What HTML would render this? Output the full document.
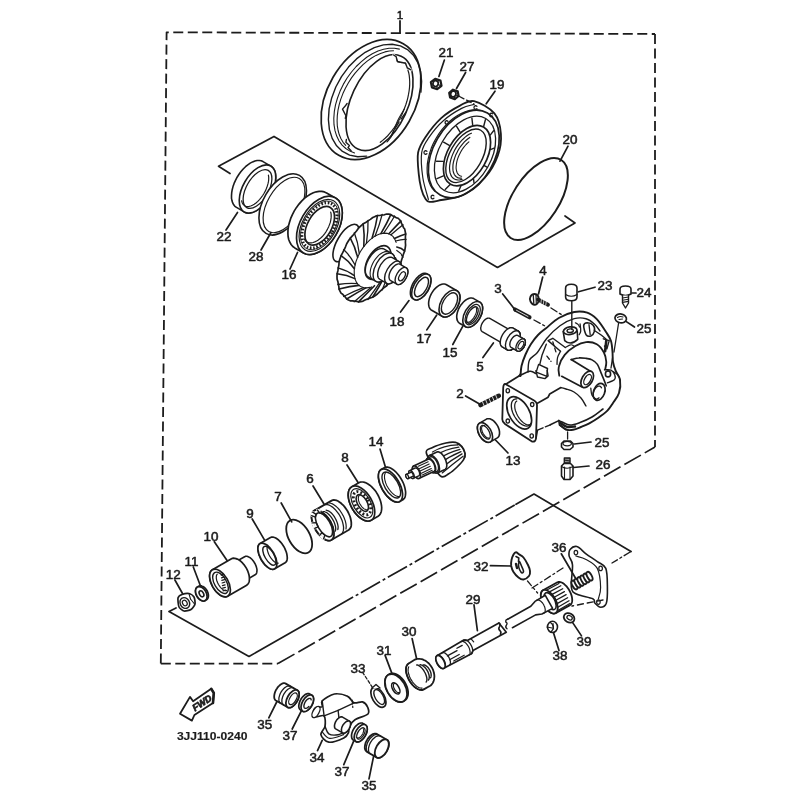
<!DOCTYPE html>
<html><head><meta charset="utf-8"><title>Parts diagram</title>
<style>
html,body{margin:0;padding:0;background:#fff;}
svg{display:block;filter:blur(0.35px);}
svg *{stroke:#1c1c1c;stroke-linecap:round;stroke-linejoin:round;}
svg text{font-family:"Liberation Sans",sans-serif;fill:#1c1c1c;stroke:#1c1c1c;stroke-width:0.5px;}
</style></head><body>
<svg width="800" height="800" viewBox="0 0 800 800">
<rect x="0" y="0" width="800" height="800" fill="#fff" stroke="none" style="stroke:none"/>
<path d="M160.8 663.6 L166.6 32.3 L655 34" stroke-width="1.8" fill="none" stroke-dasharray="10 4.5" style="stroke-linecap:butt"/>
<path d="M655 34 V447" stroke-width="1.8" fill="none" stroke-dasharray="10 4.5" style="stroke-linecap:butt"/>
<path d="M160.8 663.6 H278" stroke-width="1.7" fill="none" stroke-dasharray="10 4.5" style="stroke-linecap:butt"/>
<path d="M278 663.6 L655 447" stroke-width="1.7" fill="none" stroke-dasharray="19 4.5" style="stroke-linecap:butt"/>
<line x1="400" y1="21" x2="400" y2="33" stroke-width="1.8" />
<text transform="translate(400 18.5) scale(1.12 1)" font-size="10.5" text-anchor="middle" >1</text>
<path d="M230 173.5 L218.5 166.3 L274 136.4 L497.5 267.5 L575 223 L565 216" stroke-width="1.7" fill="none" />
<path d="M176 608 L169 611.5 L249 656.5 L334 608" stroke-width="1.7" fill="none" />
<path d="M334 608 L516 504.3" stroke-width="1.7" fill="none" stroke-dasharray="22 3 3 3" style="stroke-linecap:butt"/>
<path d="M516 504.3 L534 494 L631 551.5" stroke-width="1.7" fill="none" />
<text transform="translate(446 57) scale(1.12 1)" font-size="12" text-anchor="middle" >21</text>
<text transform="translate(467 71) scale(1.12 1)" font-size="12" text-anchor="middle" >27</text>
<text transform="translate(497 89) scale(1.12 1)" font-size="12" text-anchor="middle" >19</text>
<text transform="translate(570 144) scale(1.12 1)" font-size="12" text-anchor="middle" >20</text>
<text transform="translate(224 241) scale(1.12 1)" font-size="12" text-anchor="middle" >22</text>
<text transform="translate(256 261) scale(1.12 1)" font-size="12" text-anchor="middle" >28</text>
<text transform="translate(289 279) scale(1.12 1)" font-size="12" text-anchor="middle" >16</text>
<text transform="translate(397 326) scale(1.12 1)" font-size="12" text-anchor="middle" >18</text>
<text transform="translate(424 343) scale(1.12 1)" font-size="12" text-anchor="middle" >17</text>
<text transform="translate(450 357) scale(1.12 1)" font-size="12" text-anchor="middle" >15</text>
<text transform="translate(480 371) scale(1.12 1)" font-size="12" text-anchor="middle" >5</text>
<text transform="translate(498 293) scale(1.12 1)" font-size="12" text-anchor="middle" >3</text>
<text transform="translate(543 275) scale(1.12 1)" font-size="12" text-anchor="middle" >4</text>
<text transform="translate(605 290.3) scale(1.12 1)" font-size="12" text-anchor="middle" >23</text>
<text transform="translate(644 297) scale(1.12 1)" font-size="12" text-anchor="middle" >24</text>
<text transform="translate(644 333) scale(1.12 1)" font-size="12" text-anchor="middle" >25</text>
<text transform="translate(460 398) scale(1.12 1)" font-size="12" text-anchor="middle" >2</text>
<text transform="translate(513 465) scale(1.12 1)" font-size="12" text-anchor="middle" >13</text>
<text transform="translate(602 447) scale(1.12 1)" font-size="12" text-anchor="middle" >25</text>
<text transform="translate(603 469) scale(1.12 1)" font-size="12" text-anchor="middle" >26</text>
<text transform="translate(376 445.5) scale(1.12 1)" font-size="12" text-anchor="middle" >14</text>
<text transform="translate(345 462) scale(1.12 1)" font-size="12" text-anchor="middle" >8</text>
<text transform="translate(310 483) scale(1.12 1)" font-size="12" text-anchor="middle" >6</text>
<text transform="translate(278 501) scale(1.12 1)" font-size="12" text-anchor="middle" >7</text>
<text transform="translate(250 518) scale(1.12 1)" font-size="12" text-anchor="middle" >9</text>
<text transform="translate(211 541) scale(1.12 1)" font-size="12" text-anchor="middle" >10</text>
<text transform="translate(191.4 566) scale(1.12 1)" font-size="12" text-anchor="middle" >11</text>
<text transform="translate(173.2 579.4) scale(1.12 1)" font-size="12" text-anchor="middle" >12</text>
<text transform="translate(481 571) scale(1.12 1)" font-size="12" text-anchor="middle" >32</text>
<text transform="translate(559 552) scale(1.12 1)" font-size="12" text-anchor="middle" >36</text>
<text transform="translate(473 604) scale(1.12 1)" font-size="12" text-anchor="middle" >29</text>
<text transform="translate(409 636) scale(1.12 1)" font-size="12" text-anchor="middle" >30</text>
<text transform="translate(384 655) scale(1.12 1)" font-size="12" text-anchor="middle" >31</text>
<text transform="translate(358 673) scale(1.12 1)" font-size="12" text-anchor="middle" >33</text>
<text transform="translate(560 660) scale(1.12 1)" font-size="12" text-anchor="middle" >38</text>
<text transform="translate(584 646) scale(1.12 1)" font-size="12" text-anchor="middle" >39</text>
<text transform="translate(264.8 729) scale(1.12 1)" font-size="12" text-anchor="middle" >35</text>
<text transform="translate(290 739.6) scale(1.12 1)" font-size="12" text-anchor="middle" >37</text>
<text transform="translate(317 762) scale(1.12 1)" font-size="12" text-anchor="middle" >34</text>
<text transform="translate(342 776) scale(1.12 1)" font-size="12" text-anchor="middle" >37</text>
<text transform="translate(369 790) scale(1.12 1)" font-size="12" text-anchor="middle" >35</text>
<text x="176.9" y="740" font-size="10.4" font-weight="bold" textLength="70.6" lengthAdjust="spacingAndGlyphs" style="stroke-width:0.15px">3JJ110-0240</text>
<ellipse cx="371" cy="99.5" rx="44" ry="64.5" transform="rotate(30 371 99.5)" stroke-width="1.7" fill="none" />
<path d="M366.6 156.1 L357.8 156.7 L349.6 155.1 L342.5 151.4 L336.6 145.8 L332.2 138.4 L329.4 129.6 L328.4 119.6 L329.1 108.9 L331.7 97.9 L335.8 87 L341.5 76.6 L348.5 67.1 L356.5 58.9 L365.2 52.3 L374.3 47.6 L383.4 44.9 L392.2 44.3 L400.4 45.9 L407.5 49.6 L413.4 55.2 L417.8 62.6 L420.6 71.4 L421.6 81.4 L420.9 92.1" stroke-width="1.4" fill="none" />
<path d="M354.6 152.9 L349.9 151.1 L345.8 148.5 L342.1 145.1 L339.1 141 L336.7 136.1 L335 130.7 L334 124.7 L333.8 118.4 L334.3 111.7 L335.5 104.9 L337.5 98 L340.1 91.1 L343.3 84.4 L347.1 78 L351.5 72 L356.2 66.5 L361.4 61.6 L366.7 57.3 L372.3 53.8 L378 51.1 L383.6 49.3 L389.1 48.3 L394.4 48.3 L399.4 49.1" stroke-width="1.1" fill="none" />
<path d="M345.7 145.4 L343.1 142.3 L341 138.8 L339.3 134.8 L338.1 130.5 L337.3 125.8 L337.1 120.8 L337.3 115.6 L338 110.2 L339.2 104.7 L340.8 99.1 L342.9 93.6 L345.4 88.2 L348.3 83 L351.5 77.9 L355.1 73.2 L358.9 68.8 L363 64.7 L367.2 61.1 L371.6 58 L376 55.4 L380.5 53.4 L384.9 51.9 L389.3 51 L393.5 50.8" stroke-width="1.1" fill="none" />
<ellipse cx="379.5" cy="102.6" rx="28.3" ry="51.2" transform="rotate(25 379.5 102.6)" stroke-width="1.6" fill="none" />
<path d="M393.6 55 L396.1 56.6 L397.5 61.5 L405.4 63.2 L407.3 67.8 L411.1 69.9" stroke-width="1.4" fill="none" />
<line x1="393.6" y1="55" x2="411.1" y2="69.9" stroke-width="2.6" style="stroke:#fff"/>
<path d="M393.6 55 L396.1 56.6 L397.5 61.5 L405.4 63.2 L407.3 67.8 L411.1 69.9" stroke-width="1.4" fill="none" />
<path d="M347.1 103.5 L345 106.3 L342.5 109.1 L345.9 115.7 L345.3 118.4" stroke-width="1.4" fill="none" />
<path d="M346.4 139.4 L345.9 142.3 L349.4 145.5 L348 147.6 L351.1 150.7" stroke-width="1.4" fill="none" />
<path d="M407.9 70.1 L408.7 72.7 L409.2 75.4 L409.5 78.2 L409.7 81.3 L409.7 84.4 L409.5 87.6 L409.1 91 L408.5 94.4 L407.8 97.8 L406.9 101.3 L405.8 104.8 L404.5 108.3 L403.1 111.8 L401.6 115.2 L399.9 118.5 L398.1 121.7 L396.1 124.9 L394.1 127.9 L392 130.7 L389.7 133.4 L387.5 136 L385.1 138.3 L382.7 140.4 L380.3 142.3" stroke-width="1.2" fill="none" />
<line x1="405.9" y1="112.2" x2="401" y2="119.2" stroke-width="1.2" />
<line x1="399.2" y1="121.9" x2="394.9" y2="128.9" stroke-width="1.2" />
<line x1="393.6" y1="130.6" x2="390.8" y2="136.7" stroke-width="1.2" />
<path d="M404.5 108.7 C403.3 110.8 399.5 116.6 397.5 121 C395.4 125.4 394 131.5 392.2 135 C390.5 138.5 387.9 140.8 387 142" stroke-width="1.1" fill="none" />
<path d="M474.1 101.2 C479.8 102.6 489.9 108 494.4 113.4 C498.9 118.9 500.4 126.7 500.9 133.8 C501.5 140.8 500.5 148.3 497.8 155.6 C495.2 162.9 490.8 170.9 485 177.5 C479.2 184.1 470.4 191.2 463.1 195 C455.8 198.8 446.8 198.9 441.2 200 C435.7 201.1 432.2 202.1 429.5 201.9 C426.9 201.6 426.7 200.8 425.3 198.6 C423.9 196.4 422.3 192.5 421.2 188.4 C420.2 184.4 419.3 180.4 418.8 174.4 C418.2 168.4 417 158.8 418.1 152.5 C419.3 146.2 421.8 142.6 425.6 136.9 C429.5 131.1 435.5 123.3 441.2 118.1 C447 112.9 454.5 108.4 460 105.6 C465.5 102.8 468.3 99.9 474.1 101.2 Z" stroke-width="1.8" fill="#fff" />
<path d="M428.4 199.4 C427.5 195.7 423.9 185.3 422.8 177.5 C421.7 169.7 420.7 159.1 421.7 152.5 C422.7 145.9 425.1 143 428.8 137.7 C432.4 132.3 438.1 125.3 443.6 120.5 C449.1 115.6 456.5 111.1 461.6 108.4 C466.6 105.8 472 105.1 474.1 104.4" stroke-width="1.2" fill="none" />
<path d="M476.9 108.7 L476.6 108.9 L476.3 109.1 L476 109.2 L475.7 109.3 L475.4 109.3 L475.1 109.2 L474.8 109 L474.5 108.8 L474.3 108.5 L474.2 108.2 L474.1 107.9 L474 107.5 L474.1 107.1 L474.2 106.8 L474.3 106.5 L474.5 106.2 L474.8 106 L475.1 105.8 L475.4 105.7 L475.7 105.7 L476 105.8 L476.3 105.9 L476.6 106.1 L476.9 106.3" stroke-width="1.3" fill="none" />
<path d="M447.9 123.7 L447.7 123.9 L447.4 124.1 L447.1 124.2 L446.8 124.3 L446.5 124.3 L446.2 124.2 L445.9 124 L445.6 123.8 L445.4 123.5 L445.2 123.2 L445.2 122.9 L445.1 122.5 L445.2 122.1 L445.2 121.8 L445.4 121.5 L445.6 121.2 L445.9 121 L446.2 120.8 L446.5 120.7 L446.8 120.7 L447.1 120.8 L447.4 120.9 L447.7 121.1 L447.9 121.3" stroke-width="1.3" fill="none" />
<path d="M426.9 153.7 L426.6 153.9 L426.3 154.1 L426 154.2 L425.7 154.3 L425.4 154.3 L425.1 154.2 L424.8 154 L424.5 153.8 L424.3 153.5 L424.2 153.2 L424.1 152.9 L424 152.5 L424.1 152.1 L424.2 151.8 L424.3 151.5 L424.5 151.2 L424.8 151 L425.1 150.8 L425.4 150.7 L425.7 150.7 L426 150.8 L426.3 150.9 L426.6 151.1 L426.9 151.3" stroke-width="1.3" fill="none" />
<path d="M433.9 198.2 L433.6 198.4 L433.4 198.6 L433.1 198.8 L432.7 198.8 L432.4 198.8 L432.1 198.7 L431.8 198.6 L431.6 198.3 L431.3 198.1 L431.2 197.7 L431.1 197.4 L431.1 197 L431.1 196.7 L431.2 196.3 L431.3 196 L431.6 195.7 L431.8 195.5 L432.1 195.3 L432.4 195.3 L432.7 195.2 L433.1 195.3 L433.4 195.4 L433.6 195.6 L433.9 195.9" stroke-width="1.3" fill="none" />
<path d="M492.5 116.2 L492.2 116.4 L492 116.6 L491.7 116.7 L491.3 116.8 L491 116.8 L490.7 116.7 L490.4 116.5 L490.2 116.3 L489.9 116 L489.8 115.7 L489.7 115.4 L489.6 115 L489.7 114.6 L489.8 114.3 L489.9 114 L490.2 113.7 L490.4 113.5 L490.7 113.3 L491 113.2 L491.3 113.2 L491.7 113.3 L492 113.4 L492.2 113.6 L492.5 113.8" stroke-width="1.3" fill="none" />
<ellipse cx="463.8" cy="154" rx="30.5" ry="47.3" transform="rotate(30 463.8 154)" stroke-width="1.7" fill="none" />
<ellipse cx="465" cy="154.5" rx="26" ry="41.5" transform="rotate(30 465 154.5)" stroke-width="1.3" fill="none" />
<path d="M434.6 191.2 L432.3 188.4 L430.3 185.1 L428.8 181.3 L427.8 177.3 L427.2 172.8 L427.1 168.1 L427.4 163.3 L428.3 158.3 L429.6 153.2 L431.3 148.1 L433.5 143.1 L436.1 138.2 L439 133.6 L442.3 129.2 L445.8 125.2 L449.5 121.5 L453.4 118.2 L457.5 115.5 L461.6 113.2 L465.7 111.5 L469.8 110.4 L473.8 109.8 L477.6 109.9 L481.2 110.5" stroke-width="1.2" fill="none" />
<line x1="487" y1="167.2" x2="484.3" y2="165.6" stroke-width="1.4" />
<line x1="474" y1="182.9" x2="473.5" y2="178.9" stroke-width="1.4" />
<line x1="458.7" y1="191.1" x2="460.9" y2="185.9" stroke-width="1.4" />
<line x1="445.2" y1="189.5" x2="449.9" y2="184.8" stroke-width="1.4" />
<line x1="437" y1="178.6" x2="443.4" y2="175.8" stroke-width="1.4" />
<line x1="436.5" y1="161.2" x2="443.2" y2="161.4" stroke-width="1.4" />
<line x1="443.6" y1="142.2" x2="449.3" y2="145.4" stroke-width="1.4" />
<line x1="456.6" y1="126.4" x2="460.1" y2="132.1" stroke-width="1.4" />
<line x1="471.9" y1="118.2" x2="472.7" y2="125.1" stroke-width="1.4" />
<line x1="485.4" y1="119.8" x2="483.7" y2="126.2" stroke-width="1.4" />
<line x1="493.6" y1="130.8" x2="490.2" y2="135.1" stroke-width="1.4" />
<line x1="494.1" y1="148.1" x2="490.4" y2="149.6" stroke-width="1.4" />
<ellipse cx="467" cy="155.6" rx="19.5" ry="33" transform="rotate(30 467 155.6)" stroke-width="1.7" fill="none" />
<ellipse cx="466" cy="155.8" rx="16" ry="29.5" transform="rotate(30 466 155.8)" stroke-width="1.4" fill="none" />
<path d="M462.1 179.4 L460 179.9 L457.9 180 L456.1 179.7 L454.4 179 L453 178 L451.7 176.6 L450.8 174.9 L450.1 172.9 L449.7 170.6 L449.5 168 L449.7 165.3 L450.2 162.4 L450.9 159.4 L451.9 156.4 L453.1 153.4 L454.6 150.3 L456.3 147.4 L458.2 144.7 L460.2 142.1 L462.4 139.7 L464.6 137.6 L466.9 135.8 L469.1 134.3 L471.4 133.2" stroke-width="1.2" fill="none" />
<path d="M461.4 178.2 L459.9 178.2 L458.4 177.9 L457.1 177.4 L456 176.5 L455 175.5 L454.2 174.2 L453.5 172.6 L453.1 170.9 L452.9 169 L452.9 166.9 L453 164.7 L453.4 162.4 L454 160 L454.8 157.6 L455.7 155.1 L456.9 152.7 L458.1 150.3 L459.5 148 L461.1 145.8 L462.7 143.8 L464.4 141.9 L466.2 140.2 L468 138.7 L469.8 137.4" stroke-width="1.2" fill="none" />
<path d="M461.6 176.3 L460.5 176 L459.5 175.5 L458.7 174.8 L457.9 174 L457.3 173 L456.8 171.8 L456.5 170.5 L456.2 169.1 L456.1 167.6 L456.2 165.9 L456.4 164.2 L456.7 162.4 L457.1 160.5 L457.7 158.6 L458.4 156.7 L459.3 154.8 L460.2 152.9 L461.2 151.1 L462.3 149.3 L463.5 147.6 L464.8 146 L466.1 144.5 L467.5 143.1 L468.9 141.8" stroke-width="1.1" fill="none" />
<ellipse cx="536" cy="199" rx="23" ry="46.5" transform="rotate(33 536 199)" stroke-width="2" fill="none" />
<path d="M236.5 207.4 L234.9 206.3 L233.7 204.8 L232.7 202.9 L232 200.8 L231.5 198.3 L231.5 195.6 L231.7 192.7 L232.2 189.7 L233 186.6 L234.1 183.4 L235.5 180.3 L237.1 177.2 L239 174.3 L241 171.6 L243.2 169 L245.5 166.7 L247.8 164.8 L250.2 163.1 L252.6 161.9 L254.9 161 L257.1 160.5 L259.3 160.5 L261.2 160.8 L263 161.6 L270.8 166.1 L272.3 167.2 L273.5 168.7 L274.5 170.6 L275.3 172.8 L275.7 175.2 L275.7 177.9 L275.5 180.8 L275 183.8 L274.2 186.9 L273.1 190.1 L271.7 193.2 L270.1 196.2 L268.2 199.2 L266.2 201.9 L264 204.5 L261.8 206.8 L259.4 208.7 L257 210.4 L254.6 211.6 L252.3 212.5 L250.1 213 L248 213 L246 212.7 L244.2 211.9 Z" stroke-width="1.6" fill="#fff" />
<ellipse cx="257.5" cy="189" rx="14.5" ry="26.5" transform="rotate(30 257.5 189)" stroke-width="1.6" fill="#fff" />
<ellipse cx="257.5" cy="189" rx="11" ry="21.5" transform="rotate(30 257.5 189)" stroke-width="1.3" fill="none" />
<path d="M268.4 175.2 L268.7 177.1 L268.7 179.2 L268.5 181.4 L268 183.7 L267.3 186.1 L266.4 188.5 L265.4 190.9 L264.1 193.2 L262.7 195.5 L261.1 197.7 L259.5 199.6 L257.8 201.4 L256 203 L254.2 204.3 L252.4 205.3 L250.7 206 L249 206.4 L247.5 206.5 L246 206.3 L244.8 205.8 L243.7 204.9 L242.7 203.8 L242.1 202.4 L241.6 200.8" stroke-width="1.2" fill="none" />
<ellipse cx="282.7" cy="204.4" rx="19.5" ry="33.5" transform="rotate(30 282.7 204.4)" stroke-width="1.6" fill="#fff" />
<ellipse cx="284" cy="205" rx="16.5" ry="30.5" transform="rotate(30 284 205)" stroke-width="1.2" fill="none" />
<path d="M294.8 247.9 L292.8 246.5 L291.1 244.5 L289.8 242.2 L288.7 239.5 L288.1 236.5 L287.9 233.2 L288 229.6 L288.5 225.9 L289.5 222.2 L290.7 218.4 L292.4 214.6 L294.3 210.9 L296.5 207.4 L299 204.1 L301.6 201.1 L304.4 198.4 L307.4 196.1 L310.3 194.2 L313.3 192.8 L316.3 191.8 L319.1 191.3 L321.8 191.3 L324.4 191.9 L326.6 192.9 L335.3 197.9 L337.3 199.3 L339 201.3 L340.4 203.6 L341.4 206.3 L342 209.3 L342.3 212.6 L342.1 216.2 L341.6 219.9 L340.7 223.6 L339.4 227.4 L337.8 231.2 L335.9 234.9 L333.6 238.4 L331.2 241.7 L328.5 244.7 L325.7 247.4 L322.8 249.7 L319.8 251.6 L316.8 253 L313.9 254 L311 254.5 L308.3 254.5 L305.8 253.9 L303.5 252.9 Z" stroke-width="1.7" fill="#fff" />
<ellipse cx="319.4" cy="225.4" rx="19" ry="31.8" transform="rotate(30 319.4 225.4)" stroke-width="1.7" fill="#fff" />
<ellipse cx="319.4" cy="225.4" rx="16.8" ry="28.4" transform="rotate(30 319.4 225.4)" stroke-width="1.2" fill="none" />
<ellipse cx="319.4" cy="225.4" rx="14.4" ry="24.8" transform="rotate(30 319.4 225.4)" stroke-width="3.1" fill="none" stroke-dasharray="1.6 1.7" style="stroke-linecap:butt"/>
<ellipse cx="319.4" cy="225.4" rx="15.6" ry="26.6" transform="rotate(30 319.4 225.4)" stroke-width="0.8" fill="none" />
<ellipse cx="319.7" cy="225.8" rx="12" ry="21.2" transform="rotate(30 319.7 225.8)" stroke-width="1.7" fill="none" />
<path d="M330.7 212.1 L331.1 213.9 L331.2 215.9 L331.1 217.9 L330.8 220.1 L330.3 222.4 L329.5 224.6 L328.6 226.9 L327.5 229.1 L326.3 231.3 L324.9 233.3 L323.4 235.3 L321.8 237 L320.1 238.6 L318.3 239.9 L316.6 241 L314.8 241.9 L313.1 242.5 L311.5 242.8 L309.9 242.8 L308.5 242.5 L307.1 242 L305.9 241.2 L304.9 240.2 L304.1 238.9" stroke-width="1.2" fill="none" />
<ellipse cx="346" cy="243" rx="9" ry="21" transform="rotate(30 346 243)" stroke-width="1.6" fill="#fff" />
<path d="M395.9 272.1 L394.2 274.9 L392.4 277.6 L390.7 280.6 L388.7 283.2 L386.6 285.7 L384.2 287.5 L381.9 289.7 L379.7 291.6 L377.4 294 L375 295.7 L372.6 297.2 L370.3 297.9 L367.9 298.9 L365.5 299.8 L363.1 301.1 L360.8 301.6 L358.5 301.9 L356.6 301.3 L354.5 301.1 L352.5 300.8 L350.2 300.8 L348.4 300 L346.7 299 L345.4 297.2 L344 295.9 L342.7 294.3 L341 293.1 L340 291.2 L339.1 289.1 L338.8 286.4 L338.3 284.1 L337.9 281.6 L337.1 279.3 L337 276.6 L337.1 273.8 L337.9 270.7 L338.3 267.8 L338.9 264.8 L339.1 261.8 L340 258.8 L341.1 255.7 L342.7 252.7 L344.1 249.8 L345.5 246.8 L346.7 243.7 L348.5 240.8 L350.3 238.1 L352.6 235.7 L354.6 233.2 L356.7 230.8 L358.6 228 L360.9 225.9 L363.2 223.8 L365.7 222.5 L368 220.9 L370.4 219.4 L372.8 217.5 L375.2 216.4 L377.5 215.5 L379.8 215.5 L382.1 215 L384.3 214.8 L386.7 214 L388.8 214.2 L390.8 214.6 L392.5 215.8 L394.3 216.6 L396 217.6 L398 218.2 L399.4 219.5 L400.8 221.1 L401.5 223.4 L402.6 225.3 L403.4 227.4 L404.7 229.1 L405.2 231.5 L405.7 234 L405.4 237 L405.5 239.7 L405.4 242.5 L405.6 245.1 L405.2 248.1 L404.6 251.1 L403.4 254.2 L402.5 257.2 L401.5 260.3 L400.7 263.3 L399.4 266.4 L397.9 269.4 Z" stroke-width="1.7" fill="#fff" />
<path d="M390.7 269.2 Q389.8 276.3 386.6 285.7" stroke-width="1.6" fill="none" />
<path d="M388.4 272.8 Q386.5 280.3 382.1 290.1" stroke-width="1.3" fill="none" />
<path d="M383.2 279.1 Q379.1 286.9 372.6 297.2" stroke-width="1.6" fill="none" />
<path d="M380.4 281.7 Q375.3 289.4 367.8 299.6" stroke-width="1.3" fill="none" />
<path d="M374.5 285.7 Q367.7 292.6 358.5 301.9" stroke-width="1.6" fill="none" />
<path d="M371.5 286.9 Q364.1 293.2 354.2 301.8" stroke-width="1.3" fill="none" />
<path d="M365.9 287.9 Q357.5 292.3 346.7 299" stroke-width="1.6" fill="none" />
<path d="M363.4 287.6 Q354.7 290.8 343.6 296.5" stroke-width="1.3" fill="none" />
<path d="M359 285.4 Q350.2 286.1 339.1 289.1" stroke-width="1.6" fill="none" />
<path d="M357.3 283.6 Q348.7 282.8 337.8 284.5" stroke-width="1.3" fill="none" />
<path d="M354.9 278.6 Q347.2 275 337.1 273.8" stroke-width="1.6" fill="none" />
<path d="M354.3 275.6 Q347.3 270.5 337.8 267.9" stroke-width="1.3" fill="none" />
<path d="M354.4 268.7 Q348.9 261 341.1 255.7" stroke-width="1.6" fill="none" />
<path d="M355.1 265 Q350.6 256.1 343.6 249.6" stroke-width="1.3" fill="none" />
<path d="M357.6 257.3 Q355.1 246.5 350.3 238.1" stroke-width="1.6" fill="none" />
<path d="M359.3 253.6 Q358 242 354.3 232.8" stroke-width="1.3" fill="none" />
<path d="M363.8 246.5 Q364.7 234 363.2 223.8" stroke-width="1.6" fill="none" />
<path d="M366.4 243.4 Q368.4 230.7 368 220.3" stroke-width="1.3" fill="none" />
<path d="M372.1 238.1 Q376 225.6 377.5 215.5" stroke-width="1.6" fill="none" />
<path d="M375 236.2 Q379.8 224.1 382.2 214.4" stroke-width="1.3" fill="none" />
<path d="M380.9 233.6 Q387.1 222.9 390.8 214.6" stroke-width="1.6" fill="none" />
<path d="M383.7 233.1 Q390.4 223.3 394.6 216" stroke-width="1.3" fill="none" />
<path d="M388.8 233.7 Q396 226.2 400.8 221.1" stroke-width="1.6" fill="none" />
<path d="M391 234.8 Q398.2 228.6 403 224.8" stroke-width="1.3" fill="none" />
<path d="M394.4 238.5 Q401.3 235.1 405.7 234" stroke-width="1.6" fill="none" />
<path d="M395.6 241 Q402 239 406 239.4" stroke-width="1.3" fill="none" />
<path d="M396.8 247 Q401.9 247.9 404.6 251.1" stroke-width="1.6" fill="none" />
<path d="M396.8 250.5 Q401.1 252.7 403 257.2" stroke-width="1.3" fill="none" />
<path d="M395.4 257.9 Q397.9 262.4 397.9 269.4" stroke-width="1.6" fill="none" />
<path d="M394.2 261.7 Q395.6 267.3 394.5 275.2" stroke-width="1.3" fill="none" />
<path d="M370.1 287.4 L366.6 287.9 L363.4 287.6 L360.5 286.5 L358.1 284.6 L356.2 281.9 L354.9 278.6 L354.3 274.8 L354.2 270.5 L354.9 265.9 L356.1 261.2 L358 256.4 L360.3 251.8 L363.2 247.4 L366.4 243.4 L369.9 239.9 L373.5 237.1 L377.2 235 L380.9 233.6 L384.4 233.1 L387.6 233.4 L390.5 234.5 L392.9 236.4 L394.8 239.1 L396.1 242.4" stroke-width="1.1" fill="none" />
<ellipse cx="378" cy="262.5" rx="10.5" ry="18.5" transform="rotate(30 378 262.5)" stroke-width="1.6" fill="#fff" />
<path d="M368.2 276.9 L367.3 276.2 L366.6 275.3 L366 274.2 L365.6 272.9 L365.4 271.4 L365.3 269.8 L365.5 268.1 L365.8 266.2 L366.3 264.4 L367 262.5 L367.9 260.6 L368.8 258.8 L370 257 L371.2 255.3 L372.5 253.8 L373.8 252.4 L375.2 251.2 L376.7 250.2 L378.1 249.4 L379.5 248.9 L380.8 248.6 L382 248.5 L383.2 248.7 L384.2 249.1 L392 253.6 L392.9 254.3 L393.6 255.2 L394.2 256.3 L394.6 257.6 L394.8 259.1 L394.9 260.7 L394.7 262.4 L394.4 264.3 L393.9 266.1 L393.2 268 L392.3 269.9 L391.4 271.8 L390.3 273.5 L389 275.2 L387.7 276.7 L386.4 278.1 L385 279.3 L383.5 280.3 L382.1 281.1 L380.8 281.6 L379.4 281.9 L378.2 282 L377 281.8 L376 281.4 Z" stroke-width="1.4" fill="#fff" />
<ellipse cx="384" cy="267.5" rx="8.5" ry="16" transform="rotate(30 384 267.5)" stroke-width="1.4" fill="#fff" />
<path d="M373 279.9 L372.1 279.2 L371.4 278.3 L370.8 277.2 L370.4 275.9 L370.2 274.4 L370.1 272.8 L370.3 271.1 L370.6 269.2 L371.1 267.4 L371.8 265.5 L372.7 263.6 L373.6 261.8 L374.7 260 L376 258.3 L377.3 256.8 L378.6 255.4 L380 254.2 L381.5 253.2 L382.9 252.4 L384.2 251.9 L385.6 251.6 L386.8 251.5 L388 251.7 L389 252.1" stroke-width="1.1" fill="none" />
<path d="M379.8 279.3 L379.1 278.8 L378.6 278.1 L378.1 277.3 L377.8 276.2 L377.7 275.1 L377.7 273.9 L377.8 272.5 L378.1 271.1 L378.5 269.6 L379 268.2 L379.7 266.7 L380.4 265.2 L381.3 263.9 L382.3 262.6 L383.3 261.4 L384.3 260.3 L385.4 259.3 L386.5 258.5 L387.6 257.9 L388.7 257.5 L389.7 257.3 L390.7 257.2 L391.5 257.3 L392.3 257.7 L399.2 261.7 L399.9 262.2 L400.5 262.9 L400.9 263.7 L401.2 264.8 L401.4 265.9 L401.4 267.1 L401.3 268.5 L401 269.9 L400.6 271.4 L400.1 272.8 L399.4 274.3 L398.6 275.8 L397.8 277.1 L396.8 278.4 L395.8 279.6 L394.8 280.7 L393.7 281.7 L392.6 282.5 L391.5 283.1 L390.4 283.5 L389.4 283.7 L388.4 283.8 L387.5 283.7 L386.8 283.3 Z" stroke-width="1.4" fill="#fff" />
<ellipse cx="393" cy="272.5" rx="6.5" ry="12.5" transform="rotate(30 393 272.5)" stroke-width="1.4" fill="#fff" />
<path d="M390.7 280.7 L390.2 280.3 L389.7 279.8 L389.4 279.1 L389.2 278.4 L389 277.5 L389 276.5 L389.1 275.5 L389.3 274.4 L389.6 273.3 L390 272.2 L390.5 271.1 L391.1 270 L391.8 268.9 L392.5 268 L393.3 267 L394.1 266.2 L394.9 265.5 L395.7 264.9 L396.6 264.5 L397.4 264.1 L398.2 263.9 L398.9 263.9 L399.6 264 L400.2 264.3 L406.2 267.8 L406.8 268.2 L407.2 268.7 L407.5 269.4 L407.8 270.1 L407.9 271 L407.9 272 L407.8 273 L407.6 274.1 L407.3 275.2 L406.9 276.3 L406.4 277.4 L405.8 278.5 L405.2 279.6 L404.5 280.5 L403.7 281.5 L402.9 282.3 L402 283 L401.2 283.6 L400.4 284 L399.6 284.4 L398.8 284.6 L398 284.6 L397.4 284.5 L396.8 284.2 Z" stroke-width="1.4" fill="#fff" />
<ellipse cx="401.5" cy="276" rx="5" ry="9.5" transform="rotate(30 401.5 276)" stroke-width="1.4" fill="#fff" />
<ellipse cx="402" cy="276.3" rx="2.6" ry="5" transform="rotate(30 402 276.3)" stroke-width="1.3" fill="none" />
<path d="M412.9 298.6 L412.1 298 L411.4 297.2 L410.9 296.3 L410.6 295.1 L410.4 293.8 L410.4 292.4 L410.5 290.8 L410.8 289.2 L411.3 287.5 L411.9 285.8 L412.6 284.1 L413.5 282.5 L414.5 280.9 L415.6 279.4 L416.7 278 L418 276.8 L419.2 275.7 L420.5 274.8 L421.7 274.1 L422.9 273.6 L424.1 273.4 L425.2 273.3 L426.2 273.5 L427.2 273.9 L428.4 274.6 L429.2 275.2 L429.9 276 L430.4 277 L430.7 278.1 L430.9 279.5 L430.9 280.9 L430.8 282.4 L430.5 284.1 L430 285.7 L429.4 287.4 L428.7 289.1 L427.8 290.8 L426.8 292.3 L425.7 293.8 L424.6 295.2 L423.4 296.4 L422.1 297.5 L420.8 298.4 L419.6 299.1 L418.4 299.6 L417.2 299.9 L416.1 299.9 L415.1 299.8 L414.2 299.4 Z" stroke-width="1.6" fill="#fff" />
<ellipse cx="421.3" cy="287" rx="7.5" ry="14.3" transform="rotate(30 421.3 287)" stroke-width="1.6" fill="#fff" />
<ellipse cx="421.5" cy="287" rx="5.2" ry="10.8" transform="rotate(30 421.5 287)" stroke-width="1.4" fill="none" />
<path d="M431.7 310.3 L430.8 309.6 L430 308.8 L429.4 307.7 L429 306.5 L428.7 305.1 L428.6 303.5 L428.7 301.9 L429 300.2 L429.4 298.4 L430 296.7 L430.8 294.9 L431.7 293.2 L432.7 291.6 L433.8 290 L435.1 288.6 L436.4 287.4 L437.7 286.3 L439.1 285.4 L440.4 284.7 L441.8 284.2 L443.1 284 L444.3 284 L445.5 284.2 L446.5 284.7 L456.9 290.7 L457.8 291.4 L458.6 292.2 L459.2 293.3 L459.6 294.5 L459.9 295.9 L460 297.5 L459.9 299.1 L459.6 300.8 L459.2 302.6 L458.6 304.3 L457.8 306.1 L456.9 307.8 L455.9 309.4 L454.8 311 L453.5 312.4 L452.2 313.6 L450.9 314.7 L449.5 315.6 L448.2 316.3 L446.8 316.8 L445.5 317 L444.3 317 L443.1 316.8 L442.1 316.3 Z" stroke-width="1.6" fill="#fff" />
<ellipse cx="449.5" cy="303.5" rx="8.6" ry="14.8" transform="rotate(30 449.5 303.5)" stroke-width="1.6" fill="#fff" />
<ellipse cx="449.5" cy="303.5" rx="6.5" ry="11.8" transform="rotate(30 449.5 303.5)" stroke-width="1.4" fill="none" />
<path d="M459.5 323.2 L458.7 322.6 L458 321.7 L457.4 320.7 L457 319.5 L456.8 318.2 L456.7 316.8 L456.8 315.2 L457.1 313.6 L457.5 311.9 L458.1 310.2 L458.8 308.5 L459.7 306.9 L460.7 305.3 L461.8 303.9 L463 302.5 L464.2 301.3 L465.5 300.2 L466.8 299.4 L468.1 298.7 L469.3 298.2 L470.5 298 L471.7 298 L472.8 298.2 L473.7 298.6 L479.8 302.1 L480.6 302.7 L481.4 303.6 L481.9 304.6 L482.3 305.8 L482.6 307.1 L482.6 308.5 L482.5 310.1 L482.2 311.7 L481.8 313.4 L481.2 315.1 L480.5 316.8 L479.6 318.4 L478.6 320 L477.6 321.4 L476.4 322.8 L475.1 324 L473.9 325.1 L472.6 325.9 L471.3 326.6 L470 327 L468.8 327.3 L467.6 327.3 L466.6 327.1 L465.6 326.7 Z" stroke-width="1.6" fill="#fff" />
<ellipse cx="472.7" cy="314.4" rx="8" ry="14.2" transform="rotate(30 472.7 314.4)" stroke-width="1.6" fill="#fff" />
<ellipse cx="472.7" cy="314.6" rx="6" ry="11.2" transform="rotate(30 472.7 314.6)" stroke-width="1.2" fill="none" />
<ellipse cx="472.3" cy="315" rx="4.3" ry="9.2" transform="rotate(30 472.3 315)" stroke-width="1.4" fill="none" />
<path d="M476.3 307.7 L476.5 308.4 L476.6 309.1 L476.6 310 L476.5 310.9 L476.4 311.9 L476.1 313 L475.7 314 L475.2 315.1 L474.7 316.1 L474.1 317.1 L473.5 318.1 L472.8 319 L472 319.8 L471.3 320.5 L470.5 321.2 L469.7 321.7 L469 322 L468.3 322.3 L467.6 322.4 L467 322.3 L466.5 322.2 L466 321.9 L465.6 321.4 L465.3 320.9" stroke-width="1.1" fill="none" />
<path d="M509.4 346.4 L509 346.1 L508.7 345.7 L508.4 345.2 L508.3 344.7 L508.1 344 L508.1 343.3 L508.2 342.6 L508.3 341.8 L508.5 341 L508.8 340.2 L509.1 339.4 L509.6 338.6 L510 337.8 L510.5 337.1 L511.1 336.5 L511.7 335.9 L512.3 335.4 L512.9 335 L513.5 334.7 L514.1 334.4 L514.7 334.3 L515.3 334.3 L515.8 334.4 L516.2 334.6 L524 339.1 L524.4 339.4 L524.8 339.8 L525 340.3 L525.2 340.8 L525.3 341.5 L525.4 342.2 L525.3 342.9 L525.2 343.7 L525 344.5 L524.7 345.3 L524.3 346.1 L523.9 346.9 L523.5 347.7 L522.9 348.4 L522.4 349 L521.8 349.6 L521.2 350.1 L520.6 350.5 L519.9 350.8 L519.3 351.1 L518.8 351.2 L518.2 351.2 L517.7 351.1 L517.2 350.9 Z" stroke-width="1.4" fill="#fff" />
<ellipse cx="520.6" cy="345" rx="3.8" ry="6.8" transform="rotate(30 520.6 345)" stroke-width="1.4" fill="#fff" />
<path d="M502.3 346.9 L501.6 346.4 L501.1 345.8 L500.7 345 L500.5 344.2 L500.3 343.2 L500.3 342.1 L500.4 340.9 L500.6 339.7 L500.9 338.4 L501.4 337.1 L502 335.8 L502.6 334.6 L503.4 333.4 L504.2 332.3 L505.1 331.2 L506 330.3 L507 329.5 L507.9 328.8 L508.9 328.3 L509.8 327.9 L510.7 327.7 L511.6 327.7 L512.3 327.8 L513.1 328.1 L518.2 331.1 L518.9 331.6 L519.4 332.2 L519.8 333 L520 333.8 L520.2 334.8 L520.2 335.9 L520.1 337.1 L519.9 338.3 L519.6 339.6 L519.1 340.9 L518.5 342.2 L517.9 343.4 L517.1 344.6 L516.3 345.7 L515.4 346.8 L514.5 347.7 L513.5 348.5 L512.6 349.2 L511.6 349.7 L510.7 350.1 L509.8 350.3 L508.9 350.3 L508.1 350.2 L507.4 349.9 Z" stroke-width="1.4" fill="#fff" />
<ellipse cx="512.8" cy="340.5" rx="5.8" ry="10.8" transform="rotate(30 512.8 340.5)" stroke-width="1.4" fill="#fff" />
<path d="M482.2 331.6 L481.8 331.3 L481.4 330.8 L481.1 330.3 L480.9 329.6 L480.8 328.9 L480.7 328.2 L480.8 327.3 L481 326.5 L481.2 325.6 L481.5 324.7 L481.9 323.8 L482.4 322.9 L482.9 322.1 L483.5 321.3 L484.1 320.5 L484.8 319.9 L485.4 319.3 L486.1 318.9 L486.8 318.5 L487.5 318.2 L488.1 318.1 L488.7 318.1 L489.3 318.2 L489.8 318.4 L511.5 330.9 L511.9 331.2 L512.3 331.7 L512.6 332.2 L512.8 332.9 L512.9 333.6 L512.9 334.3 L512.8 335.2 L512.7 336 L512.5 336.9 L512.1 337.8 L511.8 338.7 L511.3 339.6 L510.8 340.4 L510.2 341.2 L509.6 342 L508.9 342.6 L508.2 343.2 L507.5 343.6 L506.9 344 L506.2 344.2 L505.5 344.4 L504.9 344.4 L504.4 344.3 L503.9 344.1 Z" stroke-width="1.4" fill="#fff" />
<path d="M502.3 346.9 L501.6 346.4 L501.1 345.8 L500.7 345 L500.5 344.2 L500.3 343.2 L500.3 342.1 L500.4 340.9 L500.6 339.7 L500.9 338.4 L501.4 337.1 L502 335.8 L502.6 334.6 L503.4 333.4 L504.2 332.3 L505.1 331.2 L506 330.3 L507 329.5 L507.9 328.8 L508.9 328.3 L509.8 327.9 L510.7 327.7 L511.6 327.7 L512.3 327.8 L513.1 328.1 L518.2 331.1 L518.9 331.6 L519.4 332.2 L519.8 333 L520 333.8 L520.2 334.8 L520.2 335.9 L520.1 337.1 L519.9 338.3 L519.6 339.6 L519.1 340.9 L518.5 342.2 L517.9 343.4 L517.1 344.6 L516.3 345.7 L515.4 346.8 L514.5 347.7 L513.5 348.5 L512.6 349.2 L511.6 349.7 L510.7 350.1 L509.8 350.3 L508.9 350.3 L508.1 350.2 L507.4 349.9 Z" stroke-width="1.4" fill="#fff" />
<ellipse cx="512.8" cy="340.5" rx="5.8" ry="10.8" transform="rotate(30 512.8 340.5)" stroke-width="1.4" fill="#fff" />
<path d="M511.2 347.4 L510.8 347.1 L510.4 346.7 L510.2 346.2 L510 345.7 L509.9 345 L509.8 344.3 L509.9 343.6 L510 342.8 L510.2 342 L510.5 341.2 L510.9 340.4 L511.3 339.6 L511.8 338.8 L512.3 338.1 L512.8 337.5 L513.4 336.9 L514 336.4 L514.7 336 L515.3 335.7 L515.9 335.4 L516.5 335.3 L517 335.3 L517.5 335.4 L518 335.6 L524 339.1 L524.4 339.4 L524.8 339.8 L525 340.3 L525.2 340.8 L525.3 341.5 L525.4 342.2 L525.3 342.9 L525.2 343.7 L525 344.5 L524.7 345.3 L524.3 346.1 L523.9 346.9 L523.5 347.7 L522.9 348.4 L522.4 349 L521.8 349.6 L521.2 350.1 L520.6 350.5 L519.9 350.8 L519.3 351.1 L518.8 351.2 L518.2 351.2 L517.7 351.1 L517.2 350.9 Z" stroke-width="1.4" fill="#fff" />
<ellipse cx="520.6" cy="345" rx="3.8" ry="6.8" transform="rotate(30 520.6 345)" stroke-width="1.4" fill="#fff" />
<ellipse cx="520.9" cy="345.2" rx="2.2" ry="4.2" transform="rotate(30 520.9 345.2)" stroke-width="1.2" fill="none" />
<path d="M503 385 L520.5 376 L521.5 366 L525.5 354.5 L531 344 L538 335 L545.7 328.5 L558.8 318 L574.2 312 L587.2 312.7 L596.8 319.2 L606.2 332.3 L611 341 L612.5 352 L613 362 L615.6 370.7 L620 379.8 L619 393 L613 403 L607.4 410.6 L598 418 L589.3 423.3 L581 427 L573 429.8 L566 429.5 L560 425 L536 441 L532 442 L503 423 Z" stroke-width="0.1" fill="#fff" style="stroke:none"/>
<path d="M520.5 376 C520.7 374.3 520.7 369.6 521.5 366 C522.3 362.4 523.9 358.2 525.5 354.5 C527.1 350.8 528.9 347.2 531 344 C533.1 340.8 535.5 337.6 538 335 C540.5 332.4 542.2 331.3 545.7 328.5 C549.2 325.7 554 320.8 558.8 318 C563.5 315.2 569.5 312.9 574.2 312 C579 311.1 583.5 311.5 587.2 312.7 C591 313.9 593.6 316 596.8 319.2 C599.9 322.5 603.9 328.7 606.2 332.3 C608.6 335.9 610 337.7 611 341 C612 344.3 612.2 348.5 612.5 352 C612.8 355.5 612.5 358.9 613 362 C613.5 365.1 614.4 367.7 615.6 370.7 C616.8 373.7 619.4 376.1 620 379.8 C620.6 383.5 620.2 389.1 619 393 C617.8 396.9 614.9 400.1 613 403 C611.1 405.9 609.9 408.1 607.4 410.6 C604.9 413.1 601 415.9 598 418 C595 420.1 592.1 421.8 589.3 423.3 C586.5 424.8 583.7 425.9 581 427 C578.3 428.1 575.5 429.4 573 429.8 C570.5 430.2 568.2 430.3 566 429.5 C563.8 428.7 561 425.8 560 425" stroke-width="1.9" fill="none" />
<path d="M528 372 C528.2 370 527.9 363.2 529.5 360 C531.1 356.8 534.5 356.1 537.4 352.5 C540.3 348.9 543.1 342.7 546.9 338.2 C550.7 333.8 555.5 329.1 560 325.8 C564.5 322.5 569.9 319.9 574.2 318.7 C578.5 317.5 582.6 317.8 586 318.7 C589.4 319.6 592.1 321.9 594.4 324 C596.7 326.1 599.1 329.8 600 331" stroke-width="1.4" fill="none" />
<path d="M505.8 384.2 L534.5 400.8 Q537.2 402.5 537 405.5 L536 438 Q535.8 442.2 532 441.6 L505 424 Q502.2 422 502.3 419 L503.2 388 Q503.4 383.2 505.8 384.2 Z" stroke-width="1.8" fill="#fff" />
<ellipse cx="519.2" cy="412.9" rx="10.1" ry="17.7" transform="rotate(-30 519.2 412.9)" stroke-width="1.7" fill="none" />
<path d="M530.9 423.3 L530.2 424.5 L529.2 425.4 L528 425.9 L526.7 426.1 L525.2 425.9 L523.7 425.4 L522.1 424.6 L520.4 423.5 L518.8 422 L517.3 420.4 L515.9 418.5 L514.6 416.5 L513.5 414.4 L512.6 412.2 L511.9 410 L511.5 408 L511.3 406 L511.4 404.2 L511.7 402.6 L512.3 401.2 L513.2 400.1 L514.2 399.4 L515.4 399 L516.8 398.9" stroke-width="1.3" fill="none" />
<path d="M531.1 423.7 L530.5 424.4 L529.6 424.8 L528.7 424.9 L527.7 424.9 L526.6 424.6 L525.4 424.1 L524.2 423.3 L523 422.4 L521.8 421.3 L520.6 420 L519.5 418.6 L518.5 417.1 L517.5 415.5 L516.7 413.8 L516 412.1 L515.4 410.5 L515 408.8 L514.8 407.3 L514.7 405.9 L514.8 404.6 L515.1 403.4 L515.5 402.4 L516 401.7 L516.8 401.1" stroke-width="1.2" fill="none" />
<ellipse cx="507.8" cy="390.8" rx="1.7" ry="2.1" transform="rotate(0 507.8 390.8)" stroke-width="1.3" fill="none" />
<ellipse cx="532.2" cy="404.6" rx="1.7" ry="2.1" transform="rotate(0 532.2 404.6)" stroke-width="1.3" fill="none" />
<ellipse cx="507.8" cy="421.1" rx="1.7" ry="2.1" transform="rotate(0 507.8 421.1)" stroke-width="1.3" fill="none" />
<ellipse cx="531.7" cy="436" rx="1.7" ry="2.1" transform="rotate(0 531.7 436)" stroke-width="1.3" fill="none" />
<path d="M505.8 384.2 L519 376 L520.5 374" stroke-width="1.7" fill="none" />
<path d="M519 376 C520.8 375.2 527.2 371.7 530 371.3 C532.8 370.9 534.6 373.1 535.5 373.5" stroke-width="1.6" fill="none" />
<path d="M535.9 370.6 L537.5 377 L544.9 378.6 L548.1 375.9 L547.1 370.1" stroke-width="1.4" fill="none" />
<path d="M537 403.5 L548.1 397.2 L549.7 394 L560.9 387.6" stroke-width="1.7" fill="none" />
<line x1="536.2" y1="438" x2="537.5" y2="430.5" stroke-width="1.4" />
<line x1="537.5" y1="430.1" x2="550.3" y2="424.8" stroke-width="1.4" stroke-dasharray="6 2.5"/>
<line x1="550.3" y1="424.8" x2="558.8" y2="420.6" stroke-width="1.6" />
<path d="M558.8 420.6 C559.3 420.8 560.1 421.3 562 422 C563.9 422.7 567 424.9 570 425 C573 425.1 576.3 423.8 580 422.5 C583.7 421.2 588.2 419.2 592 417 C595.8 414.8 601.2 410.3 603 409" stroke-width="1.6" fill="none" />
<path d="M558.8 420.6 L559.5 425 L566 429.5" stroke-width="1.6" fill="none" />
<path d="M560.5 423 C561.6 423.6 564.6 426.2 567 426.8 C569.4 427.4 573.7 426.6 575 426.5" stroke-width="2.4" fill="none" />
<path d="M560.9 387.6 C561.8 387.8 563.8 388.3 566 389 C568.2 389.7 571.5 390.5 574 392 C576.5 393.5 579 395.7 581 398 C583 400.3 585.2 404.7 586 406" stroke-width="1.4" fill="none" />
<path d="M559.3 375.7 C559.2 374.2 557.9 370.2 558.8 366.8 C559.6 363.3 561.9 358.3 564.7 354.9 C567.5 351.4 571.8 348.1 575.4 346 C578.9 343.8 582.5 342.4 586.1 342.1 C589.6 341.8 593.8 342.5 596.8 344.2 C599.7 345.9 602.3 349.5 603.9 352.5 C605.5 355.5 606.1 359.1 606.3 362 C606.5 364.9 605.3 368.4 605.1 369.7" stroke-width="1.8" fill="none" />
<path d="M571.2 359.6 C572.5 359.3 576.5 358 578.9 357.9 C581.4 357.7 583.9 358.1 586.1 358.4 C588.2 358.8 590.1 358.9 592 359.9 C593.9 360.9 595.8 362 597.4 364.4 C598.9 366.7 600 370.3 601.5 373.9 C603 377.4 605.5 383.8 606.3 385.8" stroke-width="1.6" fill="none" />
<line x1="571.2" y1="359.6" x2="590.8" y2="371.5" stroke-width="1.7" />
<line x1="561.7" y1="376.3" x2="582.5" y2="387.2" stroke-width="1.7" />
<ellipse cx="587.2" cy="379.4" rx="5.2" ry="9" transform="rotate(30 587.2 379.4)" stroke-width="1.7" fill="#fff" />
<ellipse cx="587.6" cy="379.6" rx="3" ry="5.6" transform="rotate(30 587.6 379.6)" stroke-width="1.3" fill="none" />
<ellipse cx="599.1" cy="391.9" rx="5.6" ry="8.8" transform="rotate(20 599.1 391.9)" stroke-width="1.7" fill="#fff" />
<path d="M599 397.8 L598.2 398.4 L597.3 398.9 L596.5 399.1 L595.7 399.1 L595 398.9 L594.4 398.4 L593.9 397.8 L593.5 396.9 L593.3 395.9 L593.2 394.8 L593.3 393.6 L593.5 392.4 L593.9 391.1 L594.4 390 L595 388.9 L595.7 387.9 L596.5 387.2 L597.3 386.6 L598.2 386.2 L599 386.1 L599.8 386.2 L600.4 386.5 L601 387 L601.5 387.8" stroke-width="1.3" fill="none" />
<path d="M590.8 388.1 C591 389.3 591 393.3 592 395.3 C593 397.2 596 399.2 596.8 400" stroke-width="1.3" fill="none" />
<ellipse cx="608" cy="373.9" rx="2.6" ry="3" transform="rotate(0 608 373.9)" stroke-width="1.6" fill="none" />
<path d="M604.5 369.7 C605.6 369.8 609.3 369.2 611 370.1 C612.7 371 614.3 373.4 614.8 375.1 C615.4 376.7 615.6 378.5 614.3 379.8 C613.1 381.1 608.6 382.3 607.4 382.8" stroke-width="1.4" fill="none" />
<path d="M612.8 371.5 C613.7 372.1 616.8 373.5 618.1 375.1 C619.4 376.7 620.1 380 620.5 381" stroke-width="1.2" fill="none" />
<path d="M563.2 331.5 L564.7 340.6 Q570.6 346 577.75 339.4 L577.2 331" stroke-width="1.6" fill="#fff" />
<ellipse cx="570.2" cy="330.7" rx="6.8" ry="3.8" transform="rotate(-8 570.2 330.7)" stroke-width="1.7" fill="#fff" />
<ellipse cx="570.2" cy="330.7" rx="3.2" ry="1.8" transform="rotate(-8 570.2 330.7)" stroke-width="1.4" fill="none" />
<path d="M583.7 325.4 C583.9 323.4 585.7 322.9 587.3 322.8 C588.8 322.8 592 323.8 593.2 325.2 C594.4 326.6 594.8 329.6 594.4 331.4 C594 333.1 592.2 335.3 590.8 335.9 C589.4 336.4 587.3 336.4 586.1 334.7 C584.9 332.9 583.5 327.4 583.7 325.4 Z" stroke-width="1.6" fill="none" />
<line x1="589" y1="324.6" x2="590.2" y2="334.7" stroke-width="1.3" />
<path d="M594.4 330.5 C595.6 331.3 599.5 333.8 601.5 335.3 C603.5 336.8 605.5 338.7 606.3 339.4" stroke-width="1.4" fill="none" />
<path d="M603.3 338.8 L609.2 340.6 L606.9 348.9 L604.5 346" stroke-width="1.4" fill="none" />
<line x1="606.3" y1="340.6" x2="605.1" y2="351.3" stroke-width="2.6" />
<path d="M580.1 324 C580.2 325.2 580.9 329.3 580.7 331.1 C580.6 332.9 579.4 334.1 579.2 334.7" stroke-width="1.3" fill="none" />
<path d="M575.4 322.8 C575.9 323.1 577.7 323.9 578.3 324.6 C579 325.3 579.3 326.6 579.5 327" stroke-width="1.2" fill="none" />
<path d="M560.5 351.3 L548.1 340.6 L552.8 338.3 L565.3 347.5" stroke-width="1.4" fill="none" />
<path d="M552.8 341.8 L556.1 352.5" stroke-width="1.3" fill="none" stroke-dasharray="4 2.5"/>
<path d="M546.3 344.2 L542.1 354.9 L539.8 364.4" stroke-width="1.4" fill="none" />
<path d="M546.9 356.1 L551 361.4" stroke-width="1.3" fill="none" stroke-dasharray="4 2.5"/>
<path d="M538.6 364.4 L547.5 368.5 L546.9 376.3 L536.2 372.1 Z" stroke-width="1.4" fill="none" />
<path d="M560.5 351.3 C560 352.3 558.2 355.1 557.6 357.3 C557 359.4 557.1 363.2 557 364.4" stroke-width="1.3" fill="none" />
<path d="M565.3 347.5 C566.2 347.1 569.1 345 570.6 344.8 C572.1 344.5 573.6 345.8 574.2 346" stroke-width="1.2" fill="none" />
<line x1="502.7" y1="294" x2="514.4" y2="308.9" stroke-width="1.7" />
<line x1="515" y1="309.5" x2="529.5" y2="317.3" stroke-width="4.1" />
<line x1="516.5" y1="310.3" x2="528" y2="316.5" stroke-width="0.8" style="stroke:#fff"/>
<line x1="534" y1="320" x2="545" y2="326" stroke-width="1.4" stroke-dasharray="7 3 2 3"/>
<line x1="542.7" y1="277" x2="538.5" y2="294" stroke-width="1.7" />
<path d="M530.5 296.5 C531.2 295.2 533.2 294 534.5 294 C535.8 294 537.7 295.2 538.3 296.5 C538.9 297.8 538.9 300.6 538.3 302 C537.7 303.4 535.8 304.9 534.5 304.8 C533.2 304.7 531.2 302.9 530.5 301.5 C529.8 300.1 529.8 297.8 530.5 296.5 Z" stroke-width="1.8" fill="#fff" />
<line x1="533.3" y1="295.5" x2="533.8" y2="303.5" stroke-width="1.3" />
<line x1="536" y1="295" x2="536.3" y2="304" stroke-width="1.2" />
<line x1="538" y1="299.5" x2="548" y2="304.8" stroke-width="3.8" />
<line x1="541.5" y1="298.9" x2="540.9" y2="303" stroke-width="0.7" style="stroke:#fff"/>
<line x1="543.9" y1="300.1" x2="543.3" y2="304.2" stroke-width="0.7" style="stroke:#fff"/>
<line x1="546.3" y1="301.4" x2="545.7" y2="305.5" stroke-width="0.7" style="stroke:#fff"/>
<line x1="551" y1="308" x2="562" y2="315" stroke-width="1.4" stroke-dasharray="7 3 2 3"/>
<path d="M565.6 288 Q565.6 284.2 571.3 284.2 Q577 284.2 577 288 V297 Q577 300.8 571.3 300.8 Q565.6 300.8 565.6 297 Z" stroke-width="1.6" fill="#fff" />
<path d="M565.6 294.5 Q571.3 298 577 294.5" stroke-width="1.2" fill="none" />
<line x1="571.8" y1="301.4" x2="571.8" y2="329.5" stroke-width="1.4" />
<line x1="578.5" y1="291.8" x2="595" y2="287.2" stroke-width="1.7" />
<path d="M620 289 Q620 286 625.5 286 Q631 286 631 289 V294 Q625.5 297 620 294 Z" stroke-width="1.6" fill="#fff" />
<path d="M622.5 295.5 V303 L625.5 308 L628.5 303 V295.5" stroke-width="1.4" fill="#fff" />
<line x1="622.5" y1="298" x2="628.5" y2="297" stroke-width="1.1" />
<line x1="622.5" y1="300.2" x2="628.5" y2="299.2" stroke-width="1.1" />
<line x1="622.5" y1="302.4" x2="628.5" y2="301.4" stroke-width="1.1" />
<line x1="632" y1="293" x2="636" y2="293" stroke-width="1.7" />
<ellipse cx="620.7" cy="318.4" rx="5.8" ry="4.4" transform="rotate(10 620.7 318.4)" stroke-width="1.7" fill="#fff" />
<path d="M617.5 317.5 Q620 315.8 623 317 M619 319.5 L622.5 319" stroke-width="1.2" fill="none" />
<line x1="626.3" y1="321.6" x2="634.5" y2="327" stroke-width="1.7" />
<line x1="618.6" y1="323" x2="614" y2="352" stroke-width="1.3" />
<line x1="612.5" y1="358" x2="611" y2="368" stroke-width="1.3" />
<line x1="465.6" y1="396" x2="480" y2="404.3" stroke-width="1.7" />
<line x1="480.5" y1="405" x2="498.8" y2="395.8" stroke-width="4.6" />
<line x1="482.5" y1="401.8" x2="484.3" y2="406.2" stroke-width="0.8" style="stroke:#fff"/>
<line x1="485.8" y1="400.2" x2="487.6" y2="404.6" stroke-width="0.8" style="stroke:#fff"/>
<line x1="489.1" y1="398.5" x2="490.9" y2="402.9" stroke-width="0.8" style="stroke:#fff"/>
<line x1="492.4" y1="396.9" x2="494.2" y2="401.2" stroke-width="0.8" style="stroke:#fff"/>
<line x1="495.7" y1="395.2" x2="497.5" y2="399.6" stroke-width="0.8" style="stroke:#fff"/>
<path d="M486.5 419.1 L487.3 418.8 L488.1 418.7 L489 418.7 L489.9 418.8 L490.9 419.2 L491.9 419.7 L492.9 420.3 L493.9 421.1 L494.8 422.1 L495.7 423.1 L496.5 424.2 L497.3 425.4 L498 426.6 L498.5 427.9 L499 429.2 L499.3 430.5 L499.5 431.7 L499.5 432.9 L499.5 434 L499.3 435.1 L499 436 L498.5 436.7 L498 437.4 L497.3 437.9 L490.4 441.9 L489.7 442.2 L488.8 442.3 L487.9 442.3 L487 442.2 L486 441.8 L485 441.3 L484 440.7 L483.1 439.9 L482.1 438.9 L481.2 437.9 L480.4 436.8 L479.6 435.6 L479 434.4 L478.4 433.1 L478 431.8 L477.7 430.5 L477.5 429.3 L477.4 428.1 L477.4 427 L477.6 425.9 L478 425 L478.4 424.3 L478.9 423.6 L479.6 423.1 Z" stroke-width="1.6" fill="#fff" />
<ellipse cx="485" cy="432.5" rx="6.2" ry="10.8" transform="rotate(-30 485 432.5)" stroke-width="1.6" fill="#fff" />
<ellipse cx="485.3" cy="432.3" rx="3.8" ry="7.6" transform="rotate(-30 485.3 432.3)" stroke-width="1.3" fill="none" />
<path d="M489.2 438.1 L488.6 438.1 L488 438 L487.4 437.8 L486.7 437.4 L486 437 L485.4 436.4 L484.7 435.7 L484.1 434.9 L483.5 434.1 L483 433.2 L482.5 432.3 L482.2 431.4 L481.9 430.5 L481.7 429.6 L481.6 428.8 L481.6 428 L481.7 427.3 L481.9 426.7 L482.2 426.2 L482.6 425.9 L483.1 425.6 L483.6 425.5 L484.2 425.5 L484.8 425.7" stroke-width="1.1" fill="none" />
<line x1="495.5" y1="440" x2="508" y2="453" stroke-width="1.7" />
<line x1="567.6" y1="432" x2="567.6" y2="439" stroke-width="1.3" />
<path d="M561.5 443.5 L564 441 L570.5 441 L573 443.5 L573 447 L570 449.5 L564 449.5 L561.5 447 Z" stroke-width="1.6" fill="#fff" />
<ellipse cx="567.2" cy="443.6" rx="4.2" ry="2.2" transform="rotate(0 567.2 443.6)" stroke-width="1.2" fill="none" />
<line x1="574.4" y1="444" x2="591" y2="442" stroke-width="1.7" />
<path d="M564.3 458 L570 458 L570 463 L564.3 463 Z" stroke-width="1.3" fill="#fff" />
<line x1="564.3" y1="459.2" x2="570" y2="458.8" stroke-width="1" />
<line x1="564.3" y1="460.7" x2="570" y2="460.3" stroke-width="1" />
<line x1="564.3" y1="462.2" x2="570" y2="461.8" stroke-width="1" />
<path d="M561.5 466 L564 463.5 L570.5 463.5 L573 466 L573 476 L570 479.5 L564 479.5 L561.5 476 Z" stroke-width="1.6" fill="#fff" />
<line x1="564.5" y1="467" x2="564.5" y2="479" stroke-width="1.1" />
<line x1="570" y1="467" x2="570" y2="479" stroke-width="1.1" />
<path d="M561.5 466.5 Q567 470 573 466.5" stroke-width="1.1" fill="none" />
<line x1="573.5" y1="467.5" x2="589" y2="466" stroke-width="1.7" />
<line x1="174.9" y1="580" x2="182.8" y2="594" stroke-width="1.7" />
<path d="M178 598 C178.3 596.5 180.7 595 182 594.5 C183.3 594 187.6 593.2 189 593.5 C190.4 593.8 193.3 595.8 194 597 C194.7 598.2 195.3 602.5 195 604 C194.7 605.5 192.3 608.7 191 609.5 C189.7 610.3 185.4 611.3 184 611 C182.6 610.7 179.7 608.5 179 607 C178.3 605.5 177.7 599.5 178 598 Z" stroke-width="1.7" fill="#fff" />
<ellipse cx="184.8" cy="603" rx="4.6" ry="5.6" transform="rotate(-30 184.8 603)" stroke-width="1.4" fill="none" />
<ellipse cx="184.8" cy="603" rx="2.2" ry="3" transform="rotate(-30 184.8 603)" stroke-width="1.2" fill="none" />
<line x1="189" y1="593.8" x2="190.5" y2="599" stroke-width="1.1" />
<line x1="194.5" y1="604" x2="190.5" y2="599" stroke-width="1.1" />
<line x1="193.3" y1="567" x2="200.3" y2="585.5" stroke-width="1.7" />
<path d="M198.7 586.3 L199.3 586 L200 585.9 L200.7 585.9 L201.4 585.9 L202.1 586.2 L202.9 586.5 L203.7 587 L204.4 587.5 L205.1 588.2 L205.8 588.9 L206.4 589.7 L206.9 590.5 L207.4 591.5 L207.8 592.4 L208.1 593.3 L208.3 594.3 L208.4 595.2 L208.4 596.1 L208.3 596.9 L208.1 597.6 L207.9 598.3 L207.5 598.9 L207 599.4 L206.5 599.8 L205.2 600.6 L204.6 600.8 L203.9 601 L203.2 601 L202.5 600.9 L201.8 600.7 L201 600.3 L200.2 599.9 L199.5 599.3 L198.8 598.7 L198.1 598 L197.5 597.2 L197 596.3 L196.5 595.4 L196.1 594.5 L195.8 593.5 L195.6 592.6 L195.5 591.7 L195.5 590.8 L195.6 590 L195.8 589.2 L196 588.5 L196.4 587.9 L196.9 587.4 L197.4 587 Z" stroke-width="1.7" fill="#fff" />
<ellipse cx="201.3" cy="593.8" rx="5" ry="7.8" transform="rotate(-30 201.3 593.8)" stroke-width="1.7" fill="#fff" />
<ellipse cx="201.5" cy="593.8" rx="2" ry="3.2" transform="rotate(-30 201.5 593.8)" stroke-width="1.6" fill="none" />
<line x1="214.3" y1="541.8" x2="227.4" y2="561" stroke-width="1.7" />
<path d="M244.6 556.7 L245.3 556.4 L246 556.3 L246.9 556.3 L247.7 556.5 L248.6 556.9 L249.5 557.4 L250.5 558 L251.4 558.8 L252.3 559.7 L253.1 560.7 L253.9 561.8 L254.6 563 L255.3 564.2 L255.8 565.4 L256.3 566.7 L256.6 567.9 L256.9 569.1 L257 570.2 L256.9 571.3 L256.8 572.2 L256.6 573.1 L256.2 573.8 L255.7 574.4 L255.1 574.8 L244.3 581.1 L243.6 581.4 L242.9 581.5 L242.1 581.5 L241.2 581.2 L240.3 580.9 L239.4 580.4 L238.5 579.7 L237.6 578.9 L236.7 578 L235.8 577 L235 575.9 L234.3 574.8 L233.6 573.5 L233.1 572.3 L232.6 571.1 L232.3 569.8 L232.1 568.6 L232 567.5 L232 566.5 L232.1 565.5 L232.4 564.7 L232.7 563.9 L233.2 563.3 L233.8 562.9 Z" stroke-width="1.6" fill="#fff" />
<path d="M231.5 558.8 L232.4 558.4 L233.5 558.2 L234.7 558.3 L236 558.6 L237.3 559.1 L238.7 559.8 L240.1 560.7 L241.4 561.9 L242.7 563.2 L243.9 564.6 L245.1 566.2 L246.2 567.9 L247.1 569.7 L247.9 571.4 L248.5 573.2 L249 575 L249.3 576.8 L249.4 578.4 L249.4 579.9 L249.2 581.4 L248.8 582.6 L248.2 583.7 L247.5 584.5 L246.7 585.2 L227.6 596.2 L226.6 596.6 L225.5 596.8 L224.3 596.7 L223 596.4 L221.7 595.9 L220.4 595.2 L219 594.3 L217.7 593.1 L216.3 591.8 L215.1 590.4 L214 588.8 L212.9 587.1 L212 585.3 L211.2 583.6 L210.5 581.8 L210 580 L209.7 578.2 L209.6 576.6 L209.6 575.1 L209.9 573.6 L210.3 572.4 L210.8 571.3 L211.5 570.5 L212.4 569.8 Z" stroke-width="1.7" fill="#fff" />
<ellipse cx="220" cy="583" rx="8.2" ry="15.2" transform="rotate(-30 220 583)" stroke-width="1.7" fill="#fff" />
<ellipse cx="220.5" cy="582.8" rx="6" ry="11.8" transform="rotate(-30 220.5 582.8)" stroke-width="1.4" fill="none" />
<line x1="221.2" y1="575.2" x2="223.9" y2="574.4" stroke-width="1.2" />
<line x1="221.5" y1="577.8" x2="224.2" y2="577" stroke-width="1.2" />
<line x1="221.8" y1="580.4" x2="224.5" y2="579.6" stroke-width="1.2" />
<line x1="222.1" y1="583" x2="224.8" y2="582.2" stroke-width="1.2" />
<line x1="222.4" y1="585.6" x2="225.1" y2="584.8" stroke-width="1.2" />
<line x1="222.7" y1="588.2" x2="225.4" y2="587.4" stroke-width="1.2" />
<line x1="223" y1="590.8" x2="225.7" y2="590" stroke-width="1.2" />
<path d="M226.8 590.6 L226.2 590.7 L225.6 590.7 L224.9 590.6 L224.2 590.3 L223.5 589.9 L222.7 589.4 L222 588.8 L221.2 588.1 L220.5 587.3 L219.8 586.4 L219.1 585.4 L218.5 584.5 L217.9 583.4 L217.5 582.4 L217 581.3 L216.7 580.3 L216.5 579.3 L216.3 578.3 L216.3 577.4 L216.3 576.6 L216.4 575.8 L216.6 575.2 L216.9 574.6 L217.3 574.2" stroke-width="1.2" fill="none" />
<line x1="252.2" y1="519" x2="265" y2="540.9" stroke-width="1.7" />
<path d="M270.5 537.6 L271.3 537.2 L272.3 537.1 L273.4 537.2 L274.5 537.5 L275.7 538 L276.9 538.8 L278.2 539.7 L279.4 540.8 L280.6 542.1 L281.8 543.5 L282.8 545.1 L283.9 546.7 L284.8 548.4 L285.5 550.1 L286.2 551.8 L286.7 553.5 L287 555.1 L287.2 556.7 L287.3 558.1 L287.1 559.4 L286.9 560.5 L286.4 561.5 L285.8 562.3 L285.1 562.8 L274.7 568.8 L273.8 569.2 L272.9 569.3 L271.8 569.2 L270.7 568.9 L269.5 568.4 L268.3 567.6 L267 566.7 L265.8 565.6 L264.6 564.3 L263.4 562.9 L262.3 561.3 L261.3 559.7 L260.4 558 L259.7 556.3 L259 554.6 L258.5 552.9 L258.1 551.3 L258 549.7 L257.9 548.3 L258 547 L258.3 545.9 L258.8 544.9 L259.4 544.1 L260.1 543.6 Z" stroke-width="1.7" fill="#fff" />
<ellipse cx="267.4" cy="556.2" rx="7" ry="14.6" transform="rotate(-30 267.4 556.2)" stroke-width="1.7" fill="#fff" />
<ellipse cx="269.4" cy="555.7" rx="4.6" ry="10.6" transform="rotate(-30 269.4 555.7)" stroke-width="1.4" fill="none" />
<path d="M278.2 563.2 L277.6 563.3 L277 563.1 L276.3 562.9 L275.6 562.5 L274.8 562.1 L274.1 561.5 L273.3 560.8 L272.5 560 L271.8 559.1 L271 558.2 L270.4 557.2 L269.7 556.1 L269.1 555 L268.6 553.9 L268.1 552.8 L267.8 551.7 L267.5 550.7 L267.2 549.7 L267.1 548.7 L267.1 547.8 L267.1 547 L267.3 546.3 L267.5 545.7 L267.8 545.2" stroke-width="1.2" fill="none" />
<line x1="281.2" y1="503" x2="291.7" y2="521.9" stroke-width="1.7" />
<ellipse cx="299.2" cy="536.5" rx="10.5" ry="18.5" transform="rotate(-30 299.2 536.5)" stroke-width="1.8" fill="none" />
<line x1="313" y1="486" x2="324" y2="504" stroke-width="1.7" />
<line x1="347" y1="465" x2="359" y2="484" stroke-width="1.7" />
<path d="M358.8 482.8 L360 482.2 L361.5 482 L363 482 L364.6 482.4 L366.3 483 L368 484 L369.8 485.2 L371.5 486.6 L373.1 488.3 L374.7 490.1 L376.2 492.1 L377.5 494.2 L378.7 496.5 L379.7 498.8 L380.5 501 L381.1 503.3 L381.5 505.5 L381.7 507.6 L381.6 509.6 L381.3 511.4 L380.8 512.9 L380.1 514.3 L379.2 515.4 L378.1 516.2 L371.1 520.2 L369.9 520.8 L368.5 521 L366.9 521 L365.3 520.6 L363.6 520 L361.9 519 L360.2 517.8 L358.4 516.4 L356.8 514.7 L355.2 512.9 L353.7 510.9 L352.4 508.8 L351.2 506.5 L350.2 504.2 L349.4 502 L348.8 499.7 L348.4 497.5 L348.2 495.4 L348.3 493.4 L348.6 491.6 L349.1 490.1 L349.8 488.7 L350.7 487.6 L351.9 486.8 Z" stroke-width="1.7" fill="#fff" />
<ellipse cx="361.5" cy="503.5" rx="10.5" ry="19.3" transform="rotate(-30 361.5 503.5)" stroke-width="1.7" fill="#fff" />
<ellipse cx="361.8" cy="503.3" rx="8.6" ry="16.2" transform="rotate(-30 361.8 503.3)" stroke-width="1.2" fill="none" />
<ellipse cx="362" cy="503.2" rx="6.8" ry="12.8" transform="rotate(-30 362 503.2)" stroke-width="2.9" fill="none" stroke-dasharray="1.8 2.2" style="stroke-linecap:butt"/>
<ellipse cx="362.3" cy="503" rx="4.8" ry="9.2" transform="rotate(-30 362.3 503)" stroke-width="1.6" fill="none" />
<path d="M367.5 509.7 L366.9 509.8 L366.3 509.8 L365.7 509.6 L365.1 509.3 L364.4 509 L363.8 508.6 L363.1 508 L362.5 507.4 L361.9 506.8 L361.3 506 L360.7 505.2 L360.2 504.4 L359.7 503.5 L359.3 502.7 L359 501.8 L358.7 500.9 L358.5 500 L358.4 499.2 L358.3 498.4 L358.4 497.7 L358.5 497 L358.6 496.4 L358.9 495.9 L359.2 495.4" stroke-width="1.1" fill="none" />
<line x1="380" y1="449" x2="386" y2="469" stroke-width="1.7" />
<path d="M384.3 467.7 L385.4 467.3 L386.6 467.1 L388 467.2 L389.4 467.6 L390.9 468.3 L392.5 469.2 L394.1 470.4 L395.7 471.8 L397.2 473.5 L398.7 475.3 L400.1 477.2 L401.3 479.2 L402.5 481.4 L403.5 483.5 L404.3 485.7 L404.9 487.9 L405.3 489.9 L405.6 491.9 L405.6 493.7 L405.4 495.4 L405.1 496.8 L404.5 498.1 L403.7 499 L402.8 499.8 L399.8 501.5 L398.7 502 L397.4 502.1 L396.1 502 L394.6 501.6 L393.1 501 L391.5 500 L389.9 498.8 L388.4 497.4 L386.8 495.8 L385.4 494 L384 492.1 L382.7 490 L381.6 487.9 L380.6 485.7 L379.8 483.5 L379.1 481.4 L378.7 479.3 L378.4 477.4 L378.4 475.5 L378.6 473.9 L379 472.4 L379.5 471.2 L380.3 470.2 L381.2 469.5 Z" stroke-width="1.7" fill="#fff" />
<ellipse cx="390.5" cy="485.5" rx="9" ry="18.5" transform="rotate(-30 390.5 485.5)" stroke-width="1.7" fill="#fff" />
<ellipse cx="391.3" cy="485" rx="6.8" ry="14.5" transform="rotate(-30 391.3 485)" stroke-width="1.4" fill="none" />
<path d="M399.4 496.5 L398.6 496.6 L397.7 496.4 L396.7 496.1 L395.7 495.7 L394.7 495.1 L393.6 494.3 L392.6 493.4 L391.5 492.4 L390.5 491.2 L389.6 490 L388.6 488.7 L387.8 487.3 L387 485.9 L386.3 484.4 L385.7 483 L385.3 481.5 L384.9 480.1 L384.6 478.7 L384.5 477.4 L384.5 476.2 L384.6 475.1 L384.8 474.2 L385.2 473.3 L385.6 472.6" stroke-width="1.1" fill="none" />
<path d="M331.6 500.6 L332.7 500.1 L333.8 500 L335.1 500.1 L336.4 500.4 L337.9 501 L339.3 501.9 L340.8 503 L342.2 504.3 L343.7 505.7 L345 507.4 L346.3 509.2 L347.5 511 L348.5 513 L349.4 515 L350.2 517 L350.7 519 L351.1 520.9 L351.3 522.7 L351.3 524.4 L351.2 525.9 L350.8 527.3 L350.2 528.4 L349.5 529.3 L348.6 530 L331.3 540 L330.3 540.5 L329.1 540.6 L327.8 540.5 L326.5 540.2 L325.1 539.6 L323.6 538.7 L322.1 537.6 L320.7 536.3 L319.3 534.9 L317.9 533.2 L316.6 531.4 L315.4 529.5 L314.4 527.6 L313.5 525.6 L312.7 523.6 L312.2 521.6 L311.8 519.7 L311.6 517.9 L311.6 516.2 L311.8 514.7 L312.1 513.3 L312.7 512.2 L313.4 511.3 L314.3 510.6 Z" stroke-width="1.8" fill="#fff" />
<ellipse cx="322.8" cy="525.3" rx="8.5" ry="17" transform="rotate(-30 322.8 525.3)" stroke-width="1.8" fill="#fff" />
<path d="M325.2 504.6 L326.3 504.5 L327.4 504.6 L328.6 504.9 L329.9 505.5 L331.2 506.2 L332.5 507.1 L333.8 508.2 L335.1 509.4 L336.3 510.8 L337.5 512.3 L338.7 513.9 L339.7 515.5 L340.6 517.3 L341.4 519.1 L342.2 520.8 L342.7 522.6 L343.1 524.3 L343.4 526 L343.6 527.6 L343.5 529.1 L343.4 530.4 L343 531.6 L342.6 532.7 L342 533.6" stroke-width="1.3" fill="none" />
<path d="M329.5 503 L330.4 503.2 L331.4 503.5 L332.4 503.9 L333.5 504.5 L334.5 505.2 L335.6 506 L336.6 506.9 L337.7 507.9 L338.7 509 L339.7 510.2 L340.6 511.5 L341.5 512.8 L342.3 514.2 L343.1 515.6 L343.8 517 L344.4 518.5 L344.9 519.9 L345.4 521.3 L345.7 522.7 L346 524.1 L346.1 525.4 L346.2 526.7 L346.1 527.8 L346 528.9" stroke-width="1.2" fill="none" />
<ellipse cx="324" cy="524.8" rx="6.2" ry="13.4" transform="rotate(-30 324 524.8)" stroke-width="1.6" fill="none" />
<path d="M320.3 513.1 L321 513 L321.7 513 L322.5 513.2 L323.3 513.5 L324.1 514 L325 514.6 L325.9 515.3 L326.8 516.2 L327.7 517.1 L328.5 518.2 L329.3 519.3 L330.1 520.5 L330.8 521.7 L331.4 523 L331.9 524.3 L332.4 525.5 L332.8 526.7 L333 527.9 L333.2 529 L333.3 530.1 L333.2 531 L333 531.9 L332.8 532.6 L332.4 533.2" stroke-width="1.3" fill="none" />
<path d="M323.2 511.6 L323.9 511.6 L324.6 511.7 L325.3 512 L326.1 512.3 L326.9 512.8 L327.8 513.5 L328.6 514.2 L329.4 515 L330.2 515.9 L331 516.9 L331.8 518 L332.5 519.1 L333.2 520.3 L333.8 521.4 L334.3 522.6 L334.7 523.8 L335.1 525 L335.4 526.1 L335.6 527.2 L335.7 528.2 L335.7 529.1 L335.6 530 L335.4 530.7 L335.1 531.3" stroke-width="1.3" fill="none" />
<path d="M326.1 510.2 L326.8 510.3 L327.5 510.5 L328.2 510.8 L329 511.2 L329.7 511.7 L330.5 512.3 L331.3 513 L332.1 513.8 L332.8 514.7 L333.6 515.7 L334.3 516.7 L334.9 517.7 L335.5 518.8 L336.1 519.9 L336.6 521 L337 522.1 L337.4 523.2 L337.7 524.3 L337.9 525.3 L338.1 526.3 L338.1 527.2 L338.1 528 L338 528.8 L337.8 529.5" stroke-width="1.3" fill="none" />
<line x1="323.6" y1="538.7" x2="319.7" y2="535.4" stroke-width="2.4" style="stroke:#fff"/>
<path d="M323.6 538.7 L324.9 535.2 L322 532.5 L319.7 535.4" stroke-width="1.4" fill="none" />
<line x1="314.7" y1="528.3" x2="312.5" y2="522.9" stroke-width="2.4" style="stroke:#fff"/>
<path d="M314.7 528.3 L318.1 526.9 L316.3 522.7 L312.5 522.9" stroke-width="1.4" fill="none" />
<line x1="311.6" y1="515.7" x2="312.7" y2="512.2" stroke-width="2.4" style="stroke:#fff"/>
<path d="M311.6 515.7 L315.4 517.1 L316.1 514.4 L312.7 512.2" stroke-width="1.4" fill="none" />
<line x1="317.3" y1="510" x2="321" y2="511.3" stroke-width="2.4" style="stroke:#fff"/>
<path d="M317.3 510 L319.5 512.8 L322.3 513.9 L321 511.3" stroke-width="1.4" fill="none" />
<path d="M426.4 453.2 C425.2 448.9 429.6 449.1 432.6 447.5 C435.5 446 442.5 443.8 445.9 443 C449.3 442.2 453.1 441.8 455.5 442.3 C457.9 442.9 460.5 444.9 461.9 446.5 C463.3 448.2 464.8 451.4 465.1 453.3 C465.3 455.3 464.8 457.5 463.6 459.6 C462.4 461.6 459.3 464.9 457.1 467 C454.9 469.1 451.6 472.1 449.1 473.5 C446.6 474.8 443.7 479 440.3 475.9 C436.9 472.9 427.5 457.4 426.4 453.2 Z" stroke-width="1.7" fill="#fff" />
<path d="M432.5 452 Q443.6 445.2 457.8 444.9" stroke-width="1.3" fill="none" />
<path d="M434.4 456.2 Q445.4 449 458.9 447.2" stroke-width="1.3" fill="none" />
<path d="M436.3 460.3 Q447.2 452.8 459.9 449.4" stroke-width="1.3" fill="none" />
<path d="M438.3 464.5 Q448.9 456.6 461 451.7" stroke-width="1.3" fill="none" />
<path d="M440.2 468.7 Q450.7 460.4 462 453.9" stroke-width="1.3" fill="none" />
<path d="M442.2 472.9 Q452.5 464.2 463.1 456.2" stroke-width="1.3" fill="none" />
<path d="M457.7 444.6 L458.1 444.5 L458.5 444.5 L459 444.7 L459.5 444.9 L460 445.3 L460.6 445.7 L461.1 446.3 L461.6 446.9 L462.2 447.7 L462.7 448.5 L463.2 449.3 L463.6 450.2 L464 451.1 L464.3 452 L464.6 452.9 L464.8 453.7 L465 454.6 L465 455.4 L465 456.1 L465 456.7 L464.8 457.2 L464.6 457.7 L464.4 458 L464 458.2" stroke-width="1.2" fill="none" />
<path d="M436.9 452 L437.5 451.9 L438.1 451.8 L438.8 452 L439.5 452.2 L440.3 452.7 L441 453.2 L441.8 453.9 L442.5 454.7 L443.2 455.6 L443.9 456.6 L444.5 457.7 L445.1 458.8 L445.6 459.9 L446 461.1 L446.3 462.3 L446.6 463.4 L446.7 464.5 L446.8 465.5 L446.7 466.5 L446.5 467.3 L446.3 468 L445.9 468.6 L445.5 469.1 L445 469.4 L437.7 472.8 L437.2 473 L436.5 473 L435.8 472.9 L435.1 472.6 L434.4 472.2 L433.6 471.6 L432.9 471 L432.1 470.2 L431.4 469.2 L430.7 468.3 L430.1 467.2 L429.5 466.1 L429 464.9 L428.6 463.7 L428.3 462.6 L428.1 461.5 L427.9 460.4 L427.9 459.3 L427.9 458.4 L428.1 457.6 L428.3 456.8 L428.7 456.2 L429.1 455.7 L429.6 455.4 Z" stroke-width="1.6" fill="#fff" />
<ellipse cx="433.7" cy="464.1" rx="4.6" ry="9.6" transform="rotate(-25 433.7 464.1)" stroke-width="1.6" fill="#fff" />
<path d="M430.3 456.9 L430.8 456.7 L431.3 456.7 L431.9 456.8 L432.5 457 L433.1 457.4 L433.7 457.9 L434.4 458.4 L435 459.1 L435.6 459.9 L436.1 460.7 L436.7 461.6 L437.1 462.5 L437.5 463.5 L437.9 464.4 L438.2 465.4 L438.4 466.4 L438.5 467.3 L438.5 468.1 L438.5 468.9 L438.3 469.6 L438.1 470.2 L437.8 470.7 L437.5 471.1 L437.1 471.4 L434.4 472.6 L433.9 472.8 L433.3 472.8 L432.8 472.7 L432.2 472.5 L431.6 472.1 L430.9 471.7 L430.3 471.1 L429.7 470.4 L429.1 469.6 L428.5 468.8 L428 467.9 L427.5 467 L427.1 466 L426.8 465.1 L426.5 464.1 L426.3 463.2 L426.2 462.2 L426.1 461.4 L426.2 460.6 L426.3 459.9 L426.5 459.3 L426.8 458.8 L427.2 458.4 L427.6 458.1 Z" stroke-width="1.4" fill="#fff" />
<ellipse cx="431" cy="465.4" rx="3.8" ry="8" transform="rotate(-25 431 465.4)" stroke-width="1.4" fill="#fff" />
<path d="M428.1 459.2 L428.5 459.1 L429 459.1 L429.5 459.2 L430 459.4 L430.5 459.7 L431.1 460 L431.6 460.5 L432.1 461.1 L432.6 461.7 L433.1 462.4 L433.6 463.2 L434 464 L434.3 464.8 L434.6 465.6 L434.8 466.5 L435 467.3 L435.1 468 L435.1 468.8 L435.1 469.4 L435 470 L434.8 470.5 L434.5 471 L434.2 471.3 L433.8 471.6 L419.3 478.3 L418.9 478.4 L418.5 478.5 L418 478.4 L417.5 478.2 L416.9 477.9 L416.4 477.5 L415.8 477 L415.3 476.4 L414.8 475.8 L414.3 475.1 L413.9 474.3 L413.5 473.5 L413.1 472.7 L412.8 471.9 L412.6 471.1 L412.4 470.3 L412.3 469.5 L412.3 468.8 L412.4 468.1 L412.5 467.5 L412.7 467 L412.9 466.6 L413.2 466.2 L413.6 466 Z" stroke-width="1.6" fill="#fff" />
<ellipse cx="416.5" cy="472.2" rx="3.3" ry="6.8" transform="rotate(-25 416.5 472.2)" stroke-width="1.6" fill="#fff" />
<line x1="418.3" y1="466.3" x2="428.2" y2="461.7" stroke-width="1.1" />
<line x1="419.2" y1="468.7" x2="429.2" y2="464" stroke-width="1.1" />
<line x1="420.1" y1="471" x2="430.3" y2="466.3" stroke-width="1.1" />
<line x1="421.4" y1="473.2" x2="431.3" y2="468.5" stroke-width="1.1" />
<line x1="422.4" y1="474.9" x2="432.2" y2="470.3" stroke-width="1.1" />
<path d="M415.1 468 L415.4 468 L415.7 467.9 L416 468 L416.3 468.1 L416.7 468.3 L417 468.5 L417.4 468.8 L417.7 469.2 L418.1 469.6 L418.4 470 L418.7 470.5 L418.9 471 L419.1 471.5 L419.3 472.1 L419.5 472.6 L419.6 473.1 L419.6 473.6 L419.6 474 L419.6 474.5 L419.5 474.9 L419.4 475.2 L419.2 475.5 L419 475.7 L418.7 475.8 L413.3 478.4 L413 478.5 L412.7 478.5 L412.4 478.4 L412.1 478.3 L411.7 478.1 L411.4 477.9 L411 477.6 L410.7 477.2 L410.3 476.8 L410 476.4 L409.7 475.9 L409.5 475.4 L409.3 474.9 L409.1 474.4 L408.9 473.8 L408.8 473.3 L408.8 472.8 L408.8 472.4 L408.8 471.9 L408.9 471.6 L409 471.2 L409.2 471 L409.4 470.7 L409.7 470.6 Z" stroke-width="1.4" fill="#fff" />
<ellipse cx="411.5" cy="474.5" rx="2.2" ry="4.3" transform="rotate(-25 411.5 474.5)" stroke-width="1.4" fill="#fff" />
<path d="M415.6 477.3 L415.3 477.4 L415 477.4 L414.7 477.4 L414.3 477.3 L414 477.1 L413.6 476.8 L413.3 476.5 L412.9 476.2 L412.6 475.8 L412.3 475.3 L412 474.8 L411.8 474.3 L411.5 473.8 L411.4 473.3 L411.2 472.8 L411.1 472.3 L411.1 471.8 L411.1 471.3 L411.1 470.9 L411.2 470.5 L411.3 470.2 L411.5 469.9 L411.7 469.7 L411.9 469.5" stroke-width="1.1" fill="none" />
<path d="M410.8 472.3 L410.9 472.2 L411.1 472.2 L411.3 472.2 L411.5 472.3 L411.6 472.4 L411.8 472.5 L412 472.7 L412.2 472.9 L412.4 473.1 L412.6 473.3 L412.7 473.6 L412.8 473.8 L413 474.1 L413.1 474.4 L413.1 474.7 L413.2 475 L413.2 475.2 L413.2 475.5 L413.2 475.7 L413.1 475.9 L413.1 476.1 L413 476.2 L412.9 476.3 L412.7 476.4 L408.2 478.5 L408 478.6 L407.9 478.6 L407.7 478.6 L407.5 478.5 L407.3 478.4 L407.1 478.3 L407 478.1 L406.8 477.9 L406.6 477.7 L406.4 477.5 L406.3 477.2 L406.1 477 L406 476.7 L405.9 476.4 L405.8 476.1 L405.8 475.9 L405.8 475.6 L405.8 475.3 L405.8 475.1 L405.8 474.9 L405.9 474.7 L406 474.6 L406.1 474.5 L406.3 474.4 Z" stroke-width="1.4" fill="#fff" />
<ellipse cx="407.2" cy="476.5" rx="1.2" ry="2.3" transform="rotate(-25 407.2 476.5)" stroke-width="1.4" fill="#fff" />
<path d="M570.3 549.3 C571.6 547.7 574.4 545.8 577 546.6 C579.6 547.3 582.6 551.2 586 553.8 C589.4 556.3 594 559.2 597.3 561.6 C600.6 564.1 604.1 564.1 605.8 568.4 C607.5 572.7 607.3 581.7 607.4 587.5 C607.5 593.3 607.4 600 606.3 603.3 C605.1 606.6 602.5 607.3 600.6 607.3 C598.8 607.3 596.3 604.7 595 603.3 C593.7 601.8 595.8 600.3 592.8 598.8 C589.8 597.3 580.6 596.1 577 594.3 C573.4 592.4 572.1 592.4 571.4 587.5 C570.6 582.6 572.9 570.3 572.5 565 C572.1 559.8 569.5 558.6 569.1 556 C568.8 553.4 568.9 550.8 570.3 549.3 Z" stroke-width="1.6" fill="#fff" />
<path d="M575.9 556 C577.6 556.6 582.4 557.3 586 559.4 C589.6 561.4 594.8 563.7 597.3 568.4 C599.7 573.1 600.5 582.4 600.6 587.5 C600.8 592.6 598.8 596.9 598.4 598.8" stroke-width="1.2" fill="none" />
<ellipse cx="575.9" cy="552.6" rx="1.8" ry="2.2" transform="rotate(0 575.9 552.6)" stroke-width="1.2" fill="none" />
<ellipse cx="600.6" cy="568.4" rx="1.8" ry="2.2" transform="rotate(0 600.6 568.4)" stroke-width="1.2" fill="none" />
<ellipse cx="598.4" cy="602.1" rx="1.8" ry="2.2" transform="rotate(0 598.4 602.1)" stroke-width="1.2" fill="none" />
<line x1="631" y1="551.5" x2="612" y2="563" stroke-width="1.4" stroke-dasharray="8 3 2 3"/>
<line x1="603" y1="600" x2="572" y2="606" stroke-width="1.4" stroke-dasharray="6 4"/>
<line x1="563" y1="568" x2="532" y2="588" stroke-width="1.3" stroke-dasharray="7 3 2 3"/>
<line x1="561.3" y1="553.8" x2="576" y2="579" stroke-width="1.7" />
<ellipse cx="574.5" cy="585" rx="2.2" ry="4.8" transform="rotate(-29 574.5 585)" stroke-width="1.9" fill="#fff" />
<ellipse cx="577.5" cy="583.2" rx="2.2" ry="4.8" transform="rotate(-29 577.5 583.2)" stroke-width="1.9" fill="#fff" />
<ellipse cx="580.5" cy="581.5" rx="2.2" ry="4.8" transform="rotate(-29 580.5 581.5)" stroke-width="1.9" fill="#fff" />
<ellipse cx="583.5" cy="579.8" rx="2.2" ry="4.8" transform="rotate(-29 583.5 579.8)" stroke-width="1.9" fill="#fff" />
<ellipse cx="586.5" cy="578" rx="2.2" ry="4.8" transform="rotate(-29 586.5 578)" stroke-width="1.9" fill="#fff" />
<ellipse cx="589.5" cy="576.2" rx="2.2" ry="4.8" transform="rotate(-29 589.5 576.2)" stroke-width="1.9" fill="#fff" />
<path d="M557.4 582.3 L558.2 582 L559.1 581.9 L560.1 582 L561.1 582.3 L562.2 582.8 L563.3 583.4 L564.4 584.3 L565.5 585.3 L566.6 586.4 L567.6 587.7 L568.5 589.1 L569.4 590.5 L570.2 592.1 L570.9 593.6 L571.4 595.1 L571.8 596.6 L572.1 598.1 L572.2 599.5 L572.2 600.8 L572 602 L571.7 603 L571.3 603.9 L570.7 604.6 L570 605.1 L555.6 613.1 L554.8 613.4 L553.9 613.5 L552.9 613.4 L551.9 613.1 L550.8 612.6 L549.7 612 L548.6 611.1 L547.5 610.1 L546.5 609 L545.4 607.7 L544.5 606.3 L543.6 604.8 L542.8 603.3 L542.2 601.8 L541.6 600.2 L541.2 598.7 L541 597.3 L540.8 595.9 L540.8 594.6 L541 593.4 L541.3 592.4 L541.7 591.5 L542.3 590.8 L543 590.3 Z" stroke-width="1.8" fill="#fff" />
<ellipse cx="549.3" cy="601.7" rx="6.5" ry="13" transform="rotate(-29 549.3 601.7)" stroke-width="1.8" fill="#fff" />
<line x1="546.4" y1="590.2" x2="558.9" y2="583.5" stroke-width="1.3" />
<line x1="549.5" y1="591.9" x2="560.8" y2="585.8" stroke-width="1.3" />
<line x1="552.1" y1="594.4" x2="562.7" y2="588.7" stroke-width="1.3" />
<line x1="554.2" y1="597.2" x2="564.4" y2="591.6" stroke-width="1.3" />
<line x1="555.9" y1="600.3" x2="566.1" y2="594.6" stroke-width="1.3" />
<line x1="557.1" y1="603.6" x2="567.6" y2="597.7" stroke-width="1.3" />
<line x1="557.8" y1="607.3" x2="569" y2="600.8" stroke-width="1.3" />
<line x1="557.4" y1="610.7" x2="569.9" y2="603.5" stroke-width="1.3" />
<ellipse cx="550.1" cy="601.2" rx="4.6" ry="9.4" transform="rotate(-29 550.1 601.2)" stroke-width="1.6" fill="none" />
<path d="M507.7 619.2 L530.8 606.3 L535 601.4 L545.3 595.3 L552.6 608.4 L541.9 614 L535.6 614.9 L512.4 627.7" stroke-width="1.6" fill="#fff" />
<path d="M507.7 619.2 q-2.5 0.5 -1.8 3 q2 1 0.5 3 q-1.5 2 0.6 3.6" stroke-width="1.4" fill="none" />
<path d="M536.6 600.3 L537.1 600.1 L537.6 600 L538.2 600 L538.8 600.2 L539.5 600.4 L540.1 600.8 L540.8 601.3 L541.4 601.8 L542.1 602.5 L542.7 603.2 L543.2 604 L543.7 604.8 L544.1 605.7 L544.5 606.5 L544.8 607.4 L545 608.3 L545.2 609.1 L545.2 609.9 L545.2 610.7 L545.1 611.4 L544.9 612 L544.6 612.5 L544.2 612.9 L543.8 613.2" stroke-width="1.2" fill="none" />
<line x1="474" y1="604.8" x2="477.4" y2="630.6" stroke-width="1.7" />
<path d="M437 655.7 L463.8 640.1 L467.4 640.4 L498.9 623 L506.3 632.2 L473 650.6 L471.4 653.8 L445.7 667.3" stroke-width="1.7" fill="#fff" />
<path d="M498.9 623 q2 1 0.6 3.6 q-1.6 2.2 0.6 4.2 q1.5 1.5 0.3 3.6" stroke-width="1.6" fill="none" />
<path d="M437.1 655.7 L437.5 655.5 L438 655.4 L438.6 655.5 L439.1 655.6 L439.7 655.9 L440.3 656.3 L441 656.7 L441.6 657.3 L442.2 657.9 L442.7 658.6 L443.3 659.4 L443.7 660.2 L444.2 661 L444.5 661.9 L444.8 662.7 L445.1 663.6 L445.2 664.4 L445.3 665.2 L445.3 665.9 L445.2 666.5 L445 667.1 L444.8 667.6 L444.5 668 L444.1 668.2 L444 668.3 L443.5 668.5 L443.1 668.5 L442.5 668.5 L441.9 668.3 L441.4 668.1 L440.7 667.7 L440.1 667.2 L439.5 666.7 L438.9 666 L438.4 665.3 L437.8 664.6 L437.4 663.7 L436.9 662.9 L436.6 662.1 L436.3 661.2 L436 660.4 L435.9 659.6 L435.8 658.8 L435.8 658.1 L435.9 657.4 L436.1 656.8 L436.3 656.4 L436.6 656 L437 655.7 Z" stroke-width="1.7" fill="#fff" />
<ellipse cx="440.5" cy="662" rx="3.6" ry="7.2" transform="rotate(-29 440.5 662)" stroke-width="1.7" fill="#fff" />
<path d="M442.3 652.8 L442.7 652.6 L443.2 652.6 L443.7 652.6 L444.3 652.8 L444.9 653 L445.5 653.4 L446.1 653.9 L446.7 654.4 L447.3 655.1 L447.9 655.8 L448.4 656.5 L448.9 657.3 L449.3 658.2 L449.7 659 L450 659.9 L450.2 660.7 L450.4 661.5 L450.4 662.3 L450.4 663 L450.3 663.7 L450.2 664.2 L449.9 664.7 L449.6 665.1 L449.2 665.4" stroke-width="1.3" fill="none" />
<path d="M463.8 640.1 L464.3 640 L464.8 639.9 L465.4 639.9 L466 640.1 L466.7 640.4 L467.4 640.8 L468 641.3 L468.7 641.9 L469.3 642.6 L469.9 643.4 L470.5 644.2 L471 645.1 L471.5 646 L471.9 646.9 L472.2 647.8 L472.5 648.7 L472.6 649.6 L472.7 650.5 L472.7 651.2 L472.6 651.9 L472.4 652.6 L472.1 653.1 L471.8 653.5 L471.4 653.8" stroke-width="1.3" fill="none" />
<path d="M461.2 641.6 L461.7 641.4 L462.2 641.3 L462.8 641.4 L463.4 641.6 L464.1 641.9 L464.7 642.3 L465.4 642.8 L466.1 643.4 L466.7 644.1 L467.3 644.8 L467.9 645.7 L468.4 646.5 L468.9 647.4 L469.3 648.4 L469.6 649.3 L469.8 650.2 L470 651.1 L470.1 651.9 L470.1 652.7 L470 653.4 L469.8 654 L469.5 654.5 L469.2 654.9 L468.8 655.2" stroke-width="1.2" fill="none" />
<line x1="447.4" y1="655.9" x2="457" y2="650.6" stroke-width="1.3" />
<line x1="449.6" y1="659.8" x2="459.2" y2="654.5" stroke-width="1.3" />
<line x1="453.7" y1="661" x2="464.2" y2="655.2" stroke-width="1.2" />
<line x1="456.9" y1="648.3" x2="462.2" y2="645.4" stroke-width="1.3" />
<line x1="471.1" y1="638.8" x2="473.7" y2="641.9" stroke-width="1.2" />
<line x1="490.4" y1="565.7" x2="510.6" y2="566" stroke-width="1.7" />
<path d="M513.5 554.5 C514.2 553.2 515.1 552.3 516 552.3 C516.9 552.3 517.8 553.4 519 554.3 C520.2 555.2 522 555.7 523.5 557.5 C525 559.3 526.9 562.8 528 565 C529.1 567.2 529.8 569.2 530 571 C530.2 572.8 530.1 574.6 529 576 C527.9 577.4 525.2 579.2 523.5 579.5 C521.8 579.8 520.2 578.8 518.5 577.5 C516.8 576.2 514.7 573.9 513.5 572 C512.3 570.1 511.6 568 511.2 566 C510.9 564 511.1 561.9 511.5 560 C511.9 558.1 512.8 555.8 513.5 554.5 Z" stroke-width="1.9" fill="#fff" />
<path d="M518.5 565 C518.5 563.7 519 561.3 519.5 561.5 C520 561.7 520.8 564.4 521.5 566 C522.2 567.6 523.4 569.8 523.5 571 C523.6 572.2 522.7 573.2 522 573 C521.3 572.8 520.1 570.8 519.5 569.5 C518.9 568.2 518.5 566.3 518.5 565 Z" stroke-width="1.6" fill="none" />
<path d="M516 556.5 L518.8 558 L518.5 561.5" stroke-width="1.6" fill="none" />
<line x1="516" y1="564" x2="517" y2="568" stroke-width="2.4" />
<line x1="527.5" y1="581" x2="537.6" y2="593" stroke-width="1.3" stroke-dasharray="6 3 2 3"/>
<line x1="553.4" y1="632.5" x2="559" y2="650.5" stroke-width="1.7" />
<ellipse cx="552.5" cy="626.9" rx="5" ry="5.6" transform="rotate(0 552.5 626.9)" stroke-width="1.6" fill="#fff" />
<path d="M550.5 622.5 Q555.5 626.5 551.5 631.5" stroke-width="1.3" fill="none" />
<line x1="553" y1="623.5" x2="553.5" y2="629" stroke-width="1.2" />
<path d="M547 627 L552 628" stroke-width="1.2" fill="none" />
<line x1="572.5" y1="622.4" x2="581.5" y2="635.9" stroke-width="1.7" />
<ellipse cx="569.1" cy="617.9" rx="5.6" ry="4.4" transform="rotate(30 569.1 617.9)" stroke-width="1.8" fill="#fff" />
<ellipse cx="569.6" cy="617.7" rx="2.8" ry="2" transform="rotate(30 569.6 617.7)" stroke-width="1.3" fill="none" />
<line x1="412.1" y1="638.5" x2="416.6" y2="658.8" stroke-width="1.7" />
<path d="M423.7 689.4 C422.6 690 423.1 689.7 422.7 689.8 C422.4 689.9 422 690 421.7 690 C421.3 690 420.9 690 420.5 689.9 C420.1 689.9 419.7 689.8 419.2 689.6 C418.8 689.5 418.4 689.3 417.9 689.1 C417.5 688.9 417 688.7 416.6 688.4 C416.2 688.1 415.7 687.8 415.3 687.5 C414.8 687.1 414.4 686.8 413.9 686.4 C413.5 686 413.1 685.5 412.7 685.1 C412.3 684.6 411.8 684.1 411.4 683.6 C411.1 683.1 410.7 682.6 410.3 682.1 C409.9 681.5 409.6 681 409.3 680.4 C408.9 679.8 408.6 679.3 408.4 678.7 C408.1 678.1 407.8 677.5 407.6 676.9 C407.3 676.3 407.1 675.7 406.9 675.1 C406.7 674.5 406.6 673.9 406.4 673.4 C406.3 672.8 406.2 672.2 406.1 671.7 C406.1 671.1 406 670.6 406 670 C406 669.5 406 669 406 668.5 C406.1 668 406.1 667.6 406.2 667.1 C406.3 666.7 406.5 666.3 406.6 665.9 C406.8 665.6 407 665.2 407.2 664.9 C407.4 664.6 407.6 664.3 407.9 664 C408.1 663.8 407.6 664.1 408.7 663.4 C409.8 662.7 413.1 660.7 414.2 660 C415.4 659.3 415.1 659.5 415.6 659.3 C416.1 659.2 416.6 659 417.1 658.9 C417.6 658.9 418.1 658.8 418.6 658.8 C419.1 658.8 419.7 658.8 420.2 658.9 C420.8 658.9 421.3 659.1 421.9 659.2 C422.4 659.4 423 659.5 423.5 659.8 C424 660 424.6 660.3 425.1 660.6 C425.6 660.9 426.2 661.2 426.7 661.6 C427.2 662 427.7 662.4 428.1 662.8 C428.6 663.2 429.1 663.7 429.5 664.2 C429.9 664.7 430.3 665.2 430.7 665.7 C431.1 666.3 431.5 666.8 431.8 667.4 C432.1 668 432.4 668.6 432.7 669.2 C433 669.8 433.2 670.4 433.4 671 C433.6 671.6 433.8 672.3 433.9 672.9 C434.1 673.5 434.2 674.1 434.3 674.8 C434.3 675.4 434.4 676 434.4 676.6 C434.4 677.2 434.3 677.8 434.2 678.4 C434.2 679 434.1 679.5 433.9 680.1 C433.8 680.6 433.6 681.2 433.4 681.7 C433.2 682.2 432.9 682.7 432.7 683.1 C432.4 683.6 432.1 684 431.7 684.4 C431.4 684.8 431.1 685.1 430.7 685.5 C430.3 685.8 430.6 685.7 429.4 686.3 C428.3 687 424.8 688.8 423.7 689.4 Z" stroke-width="1.8" fill="#fff" />
<path d="M423.7 689.4 L422.7 689.8 L421.7 690 L420.5 689.9 L419.2 689.6 L417.9 689.1 L416.6 688.4 L415.3 687.5 L413.9 686.4 L412.7 685.1 L411.4 683.6 L410.3 682.1 L409.3 680.4 L408.4 678.7 L407.6 676.9 L406.9 675.1 L406.4 673.4 L406.1 671.7 L406 670 L406 668.5 L406.2 667.1 L406.6 665.9 L407.2 664.9 L407.9 664 L408.7 663.4" stroke-width="1.4" fill="none" />
<path d="M422.1 688.1 L421.4 688.1 L420.6 688 L419.7 687.8 L418.8 687.5 L417.9 687 L416.9 686.4 L416 685.7 L415.1 684.8 L414.2 683.9 L413.3 682.9 L412.4 681.8 L411.7 680.6 L410.9 679.4 L410.3 678.2 L409.7 676.9 L409.2 675.6 L408.8 674.3 L408.5 673.1 L408.2 671.9 L408.1 670.7 L408.1 669.7 L408.2 668.7 L408.4 667.7 L408.7 666.9" stroke-width="1.2" fill="none" />
<path d="M416.7 665 L417.3 665 L417.9 665.2 L418.6 665.5 L419.3 665.9 L420 666.4 L420.7 667 L421.4 667.6 L422.1 668.4 L422.8 669.2 L423.5 670.1 L424.1 671.1 L424.6 672 L425.2 673 L425.6 674 L426 675 L426.3 676 L426.6 677 L426.8 677.9 L426.9 678.8 L426.9 679.6 L426.8 680.3 L426.7 681 L426.4 681.6 L426.1 682" stroke-width="1.4" fill="none" />
<path d="M420 664.7 L420.5 664.7 L421.1 664.9 L421.8 665.1 L422.4 665.4 L423.1 665.9 L423.8 666.4 L424.4 667 L425.1 667.6 L425.7 668.4 L426.3 669.2 L426.9 670 L427.4 670.9 L427.9 671.8 L428.3 672.7 L428.6 673.6 L428.9 674.5 L429.1 675.4 L429.2 676.2 L429.3 677.1 L429.2 677.8 L429.1 678.5 L429 679.1 L428.7 679.6 L428.4 680.1" stroke-width="1.4" fill="none" />
<path d="M423.3 664.9 L423.8 664.9 L424.4 665 L424.9 665.2 L425.5 665.5 L426.1 665.8 L426.6 666.2 L427.2 666.7 L427.8 667.3 L428.3 667.9 L428.8 668.6 L429.3 669.3 L429.7 670 L430.1 670.7 L430.4 671.5 L430.7 672.3 L430.9 673 L431.1 673.8 L431.1 674.5 L431.2 675.2 L431.1 675.8 L431 676.4 L430.9 676.9 L430.7 677.4 L430.4 677.7" stroke-width="1.4" fill="none" />
<line x1="385.1" y1="655.4" x2="391.9" y2="673.4" stroke-width="1.7" />
<path d="M389.4 674.2 L390.6 673.7 L391.8 673.5 L393.1 673.5 L394.5 673.7 L395.9 674.1 L397.4 674.8 L398.8 675.7 L400.2 676.8 L401.6 678.1 L402.9 679.5 L404 681.1 L405.1 682.8 L406 684.5 L406.8 686.3 L407.4 688.1 L407.8 690 L408.1 691.7 L408.1 693.4 L408 695 L407.6 696.5 L407.1 697.8 L406.5 698.9 L405.6 699.8 L404.6 700.6 L403.6 701.2 L402.5 701.7 L401.3 701.9 L399.9 701.9 L398.6 701.7 L397.1 701.3 L395.7 700.6 L394.2 699.7 L392.8 698.6 L391.5 697.3 L390.2 695.9 L389 694.3 L387.9 692.6 L387 690.9 L386.3 689.1 L385.7 687.3 L385.2 685.4 L385 683.7 L384.9 682 L385.1 680.4 L385.4 678.9 L385.9 677.6 L386.6 676.5 L387.4 675.6 L388.4 674.8 Z" stroke-width="1.8" fill="#fff" />
<ellipse cx="396" cy="688" rx="9.3" ry="15.2" transform="rotate(-30 396 688)" stroke-width="1.8" fill="#fff" />
<ellipse cx="395.8" cy="688.4" rx="3.2" ry="6.2" transform="rotate(-30 395.8 688.4)" stroke-width="1.6" fill="none" />
<path d="M399.4 692.5 L399.1 692.6 L398.7 692.7 L398.3 692.6 L397.8 692.5 L397.4 692.3 L396.9 692 L396.4 691.6 L396 691.2 L395.5 690.7 L395.1 690.1 L394.7 689.5 L394.3 688.9 L394 688.3 L393.8 687.6 L393.6 687 L393.4 686.4 L393.4 685.8 L393.4 685.2 L393.4 684.7 L393.6 684.3 L393.7 683.9 L394 683.7 L394.3 683.5 L394.6 683.3" stroke-width="1.2" fill="none" />
<line x1="362.6" y1="672.3" x2="372.8" y2="688" stroke-width="1.3" stroke-dasharray="3 2"/>
<ellipse cx="378.4" cy="697.3" rx="6" ry="11" transform="rotate(-30 378.4 697.3)" stroke-width="1.7" fill="#fff" />
<ellipse cx="379.2" cy="697" rx="4" ry="8.3" transform="rotate(-30 379.2 697)" stroke-width="1.4" fill="none" />
<path d="M372 688 L376 684.5 L380 688" stroke-width="1.4" fill="#fff" />
<line x1="277.2" y1="701" x2="268.8" y2="717.8" stroke-width="1.7" />
<path d="M275.9 700.5 L275.4 700.1 L274.9 699.6 L274.6 698.9 L274.3 698.1 L274.2 697.2 L274.2 696.2 L274.3 695.2 L274.5 694 L274.8 692.9 L275.2 691.7 L275.7 690.6 L276.3 689.4 L277 688.4 L277.7 687.3 L278.5 686.4 L279.4 685.6 L280.2 684.8 L281.1 684.2 L282 683.7 L282.8 683.4 L283.6 683.2 L284.4 683.2 L285.1 683.3 L285.7 683.6 L297.4 690.3 L297.9 690.7 L298.4 691.3 L298.8 692 L299 692.7 L299.1 693.6 L299.1 694.6 L299.1 695.7 L298.8 696.8 L298.5 698 L298.1 699.1 L297.6 700.3 L297 701.4 L296.3 702.5 L295.6 703.5 L294.8 704.4 L293.9 705.3 L293.1 706 L292.2 706.6 L291.4 707.1 L290.5 707.4 L289.7 707.6 L288.9 707.7 L288.2 707.6 L287.6 707.3 Z" stroke-width="1.8" fill="#fff" />
<ellipse cx="292.5" cy="698.8" rx="5.2" ry="9.8" transform="rotate(30 292.5 698.8)" stroke-width="1.8" fill="#fff" />
<path d="M283.6 705 L283.1 704.6 L282.6 704 L282.2 703.3 L282 702.6 L281.9 701.7 L281.9 700.7 L281.9 699.6 L282.2 698.5 L282.5 697.3 L282.9 696.2 L283.4 695 L284 693.9 L284.7 692.8 L285.4 691.8 L286.2 690.9 L287.1 690 L287.9 689.3 L288.8 688.7 L289.6 688.2 L290.5 687.9 L291.3 687.7 L292.1 687.6 L292.8 687.7 L293.4 688" stroke-width="1.3" fill="none" />
<path d="M280.6 703.3 L280.1 702.9 L279.6 702.3 L279.2 701.6 L279 700.9 L278.9 700 L278.9 699 L278.9 697.9 L279.2 696.8 L279.5 695.6 L279.9 694.5 L280.4 693.3 L281 692.2 L281.7 691.1 L282.4 690.1 L283.2 689.2 L284.1 688.3 L284.9 687.6 L285.8 687 L286.6 686.5 L287.5 686.1 L288.3 686 L289.1 685.9 L289.8 686 L290.4 686.3" stroke-width="1.3" fill="none" />
<ellipse cx="293" cy="698.8" rx="3.2" ry="6.5" transform="rotate(30 293 698.8)" stroke-width="1.3" fill="none" />
<line x1="301.6" y1="710.3" x2="292.2" y2="729" stroke-width="1.7" />
<path d="M300.5 709.9 L300 709.5 L299.6 709 L299.2 708.4 L299 707.6 L298.8 706.7 L298.8 705.8 L298.9 704.8 L299.1 703.8 L299.4 702.7 L299.8 701.6 L300.2 700.5 L300.8 699.5 L301.4 698.4 L302.1 697.5 L302.9 696.6 L303.7 695.8 L304.5 695.1 L305.3 694.5 L306.1 694.1 L307 693.8 L307.7 693.6 L308.5 693.6 L309.1 693.7 L309.7 694 L311.9 695.2 L312.4 695.6 L312.9 696.2 L313.2 696.8 L313.4 697.6 L313.6 698.4 L313.6 699.3 L313.5 700.3 L313.4 701.4 L313.1 702.5 L312.7 703.6 L312.2 704.6 L311.6 705.7 L311 706.7 L310.3 707.7 L309.5 708.6 L308.8 709.3 L307.9 710 L307.1 710.6 L306.3 711 L305.5 711.4 L304.7 711.5 L304 711.5 L303.3 711.4 L302.7 711.2 Z" stroke-width="1.7" fill="#fff" />
<ellipse cx="307.3" cy="703.2" rx="5" ry="9.2" transform="rotate(30 307.3 703.2)" stroke-width="1.7" fill="#fff" />
<path d="M308.9 706.4 L308.2 707.1 L307.4 707.7 L306.7 708.2 L306 708.4 L305.3 708.4 L304.8 708.2 L304.4 707.9 L304.1 707.3 L303.9 706.6 L303.9 705.7 L304.1 704.8 L304.4 703.7 L304.8 702.7 L305.3 701.7 L306 700.8 L306.7 700 L307.4 699.3 L308.2 698.8 L308.9 698.5 L309.6 698.4 L310.2 698.4 L310.7 698.7 L311 699.2 L311.2 699.9" stroke-width="1.4" fill="none" />
<line x1="322.2" y1="740.3" x2="317.5" y2="750.6" stroke-width="1.7" />
<path d="M322.2 700.9 C324 699.1 330.6 694.7 334.4 694 C338.2 693.3 344.6 694.9 347.5 696.3 C350.5 697.6 351.8 702 354.1 702.8 C356.3 703.7 360.5 701.2 362.5 701.9 C364.6 702.6 367 705.7 367.8 707.5 C368.5 709.3 369.7 712.2 367.8 714.1 C365.8 715.9 357.8 717.9 355 719.7 C352.3 721.5 350.4 724.3 349.4 726.3 C348.4 728.2 349.3 731.1 348.4 732.8 C347.6 734.6 346.7 736.5 343.8 737.9 C340.8 739.3 332.2 742.7 328.8 742.2 C325.3 741.7 321.4 737.1 320.9 734.7 C320.3 732.3 324.5 729.1 325 726.3 C325.5 723.4 325.5 717.3 324.1 715.9 C322.7 714.5 317.2 717.4 315.6 716.9 C314 716.3 313.3 713.6 313.4 712.2 C313.4 710.8 314.7 708.3 316 707.5 C317.3 706.7 321.3 707.5 322.2 706.6 C323.1 705.6 320.4 702.8 322.2 700.9 Z" stroke-width="1.7" fill="#fff" />
<path d="M322.2 700.9 L324.1 715.9" stroke-width="1.4" fill="none" />
<path d="M324.1 715.9 L338.1 710.3 L354.1 702.8" stroke-width="1.4" fill="none" />
<path d="M338.1 710.3 L339.6 724.4" stroke-width="1.4" fill="none" />
<path d="M325 726.3 C325.6 727.5 326.6 732.3 328.8 733.8 C330.9 735.2 335 735.3 338.1 734.7 C341.3 734.1 345.9 730.8 347.5 730" stroke-width="1.4" fill="none" />
<path d="M322.2 731.9 C323.4 733 326.1 738 329.7 738.4 C333.3 738.9 341.4 735.3 343.8 734.7" stroke-width="1.2" fill="none" />
<ellipse cx="316" cy="712" rx="3" ry="6.2" transform="rotate(30 316 712)" stroke-width="1.4" fill="#fff" />
<path d="M335.7 728.9 L335.3 728.6 L335 728.2 L334.7 727.8 L334.6 727.2 L334.5 726.6 L334.5 725.9 L334.5 725.2 L334.7 724.4 L334.9 723.6 L335.2 722.8 L335.5 722 L336 721.2 L336.4 720.4 L336.9 719.7 L337.5 719.1 L338.1 718.5 L338.7 718 L339.3 717.6 L339.9 717.2 L340.5 717 L341 716.9 L341.5 716.8 L342 716.9 L342.5 717.1 L349.4 721.1 L349.8 721.4 L350.1 721.8 L350.3 722.2 L350.5 722.8 L350.6 723.4 L350.6 724.1 L350.5 724.8 L350.4 725.6 L350.2 726.4 L349.9 727.2 L349.5 728 L349.1 728.8 L348.6 729.6 L348.1 730.3 L347.6 730.9 L347 731.5 L346.4 732 L345.8 732.4 L345.2 732.8 L344.6 733 L344.1 733.1 L343.5 733.2 L343 733.1 L342.6 732.9 Z" stroke-width="1.6" fill="#fff" />
<ellipse cx="346" cy="727" rx="3.6" ry="6.8" transform="rotate(30 346 727)" stroke-width="1.6" fill="#fff" />
<path d="M347.5 696.3 L352.2 700 L352.8 707.5" stroke-width="1.2" fill="none" stroke-dasharray="4 2"/>
<line x1="354" y1="740.3" x2="343.8" y2="764.7" stroke-width="1.7" />
<path d="M353.3 740 L352.8 739.6 L352.3 739.1 L351.9 738.4 L351.7 737.6 L351.6 736.7 L351.5 735.7 L351.6 734.7 L351.8 733.6 L352.1 732.5 L352.5 731.3 L353 730.2 L353.6 729.1 L354.3 728 L355 727 L355.8 726.1 L356.6 725.3 L357.5 724.6 L358.3 724 L359.2 723.5 L360 723.2 L360.8 723 L361.6 723 L362.3 723.1 L362.9 723.4 L365.5 724.9 L366 725.3 L366.5 725.8 L366.9 726.5 L367.1 727.3 L367.2 728.2 L367.3 729.2 L367.2 730.2 L367 731.3 L366.7 732.4 L366.3 733.6 L365.8 734.7 L365.2 735.8 L364.5 736.9 L363.8 737.9 L363 738.8 L362.2 739.6 L361.4 740.3 L360.5 740.9 L359.6 741.4 L358.8 741.7 L358 741.9 L357.2 741.9 L356.5 741.8 L355.9 741.5 Z" stroke-width="1.7" fill="#fff" />
<ellipse cx="360.7" cy="733.2" rx="5.2" ry="9.6" transform="rotate(30 360.7 733.2)" stroke-width="1.7" fill="#fff" />
<ellipse cx="360.9" cy="733.4" rx="3.2" ry="6.2" transform="rotate(30 360.9 733.4)" stroke-width="1.4" fill="none" />
<path d="M363.6 729.2 L363.7 729.7 L363.7 730.2 L363.6 730.8 L363.5 731.4 L363.4 732.1 L363.1 732.7 L362.9 733.4 L362.6 734 L362.2 734.6 L361.8 735.2 L361.4 735.8 L360.9 736.3 L360.5 736.7 L360 737.1 L359.5 737.5 L359 737.7 L358.6 737.9 L358.1 738 L357.7 738 L357.3 738 L357 737.9 L356.7 737.6 L356.4 737.4 L356.2 737" stroke-width="1.1" fill="none" />
<line x1="373.8" y1="755.3" x2="369" y2="778.8" stroke-width="1.7" />
<path d="M366.7 751.7 L366.2 751.2 L365.7 750.7 L365.3 749.9 L365 749.1 L364.8 748.2 L364.8 747.1 L364.9 746 L365.1 744.8 L365.4 743.6 L365.8 742.4 L366.4 741.2 L367 740.1 L367.7 738.9 L368.5 737.9 L369.3 736.9 L370.2 736 L371.1 735.3 L372 734.6 L372.9 734.1 L373.8 733.8 L374.7 733.6 L375.5 733.6 L376.3 733.7 L376.9 734 L386.9 739.8 L387.5 740.2 L388 740.8 L388.4 741.5 L388.6 742.4 L388.8 743.3 L388.8 744.3 L388.8 745.4 L388.6 746.6 L388.2 747.8 L387.8 749 L387.3 750.2 L386.6 751.4 L385.9 752.5 L385.2 753.6 L384.3 754.6 L383.4 755.4 L382.5 756.2 L381.6 756.8 L380.7 757.3 L379.8 757.6 L378.9 757.8 L378.1 757.9 L377.4 757.7 L376.7 757.4 Z" stroke-width="1.8" fill="#fff" />
<ellipse cx="381.8" cy="748.6" rx="5.6" ry="10.2" transform="rotate(30 381.8 748.6)" stroke-width="1.8" fill="#fff" />
<path d="M370.4 753.8 L369.8 753.4 L369.3 752.8 L368.9 752.1 L368.7 751.2 L368.5 750.3 L368.5 749.3 L368.5 748.2 L368.8 747 L369.1 745.8 L369.5 744.6 L370 743.4 L370.7 742.2 L371.4 741.1 L372.1 740 L373 739 L373.9 738.2 L374.8 737.4 L375.7 736.8 L376.6 736.3 L377.5 736 L378.4 735.8 L379.2 735.7 L379.9 735.9 L380.6 736.2" stroke-width="1.3" fill="none" />
<path d="M368.2 752.5 L367.6 752.1 L367.1 751.5 L366.7 750.8 L366.5 750 L366.3 749 L366.3 748 L366.3 746.9 L366.6 745.7 L366.9 744.5 L367.3 743.3 L367.8 742.1 L368.5 740.9 L369.2 739.8 L369.9 738.7 L370.8 737.7 L371.7 736.9 L372.6 736.1 L373.5 735.5 L374.4 735 L375.3 734.7 L376.2 734.5 L377 734.4 L377.7 734.6 L378.4 734.9" stroke-width="1.3" fill="none" />
<path d="M180 713.8 L190 696.9 L193.1 701.2 L211.2 688.8 L213.8 693 L213 703 L194.4 715 L191.9 720.6 Z" stroke-width="1.8" fill="#fff" />
<path d="M211.2 688.8 L213.8 693 L213 703" stroke-width="2.6" fill="none" />
<text x="202.5" y="706" font-size="9.4" font-weight="bold" font-style="italic" text-anchor="middle" transform="rotate(-34 202.5 703.5)" style="stroke-width:0.7px">FWD</text>
<line x1="444.4" y1="60" x2="438.9" y2="76.5" stroke-width="1.7" />
<line x1="465.6" y1="72.5" x2="456.5" y2="88.5" stroke-width="1.7" />
<line x1="495" y1="91.2" x2="486.2" y2="103.8" stroke-width="1.7" />
<line x1="568" y1="146.2" x2="560" y2="161.2" stroke-width="1.7" />
<line x1="237.5" y1="212.5" x2="226" y2="230" stroke-width="1.7" />
<line x1="271" y1="232.5" x2="261" y2="250" stroke-width="1.7" />
<line x1="297.5" y1="252.5" x2="290" y2="269" stroke-width="1.7" />
<line x1="409" y1="300.6" x2="400.5" y2="312" stroke-width="1.7" />
<line x1="436.6" y1="315.2" x2="426.8" y2="329.9" stroke-width="1.7" />
<line x1="462.6" y1="326.6" x2="452.8" y2="344.5" stroke-width="1.7" />
<line x1="493.4" y1="342.9" x2="482.9" y2="357.5" stroke-width="1.7" />
<path d="M441.5 85.8 L437.2 89.2 L431.9 87.4 L430.9 82.2 L435.2 78.8 L440.5 80.6 Z" stroke-width="2.2" fill="#fff" />
<ellipse cx="435.6" cy="83.6" rx="2.6" ry="2.9" transform="rotate(20 435.6 83.6)" stroke-width="1.7" fill="none" />
<line x1="441.5" y1="85.8" x2="438" y2="84.6" stroke-width="1.2" />
<line x1="437.2" y1="89.2" x2="436.7" y2="86.4" stroke-width="1.2" />
<path d="M458.6 96 L454.8 99.1 L450.1 97.5 L449.2 92.8 L453 89.7 L457.7 91.3 Z" stroke-width="2.2" fill="#fff" />
<ellipse cx="453.3" cy="94" rx="2.6" ry="2.9" transform="rotate(20 453.3 94)" stroke-width="1.7" fill="none" />
<line x1="458.6" y1="96" x2="455.7" y2="95" stroke-width="1.2" />
<line x1="454.8" y1="99.1" x2="454.4" y2="96.8" stroke-width="1.2" />
<line x1="459.5" y1="96.5" x2="474" y2="104" stroke-width="1.4" stroke-dasharray="5 3"/>
</svg>
</body></html>
